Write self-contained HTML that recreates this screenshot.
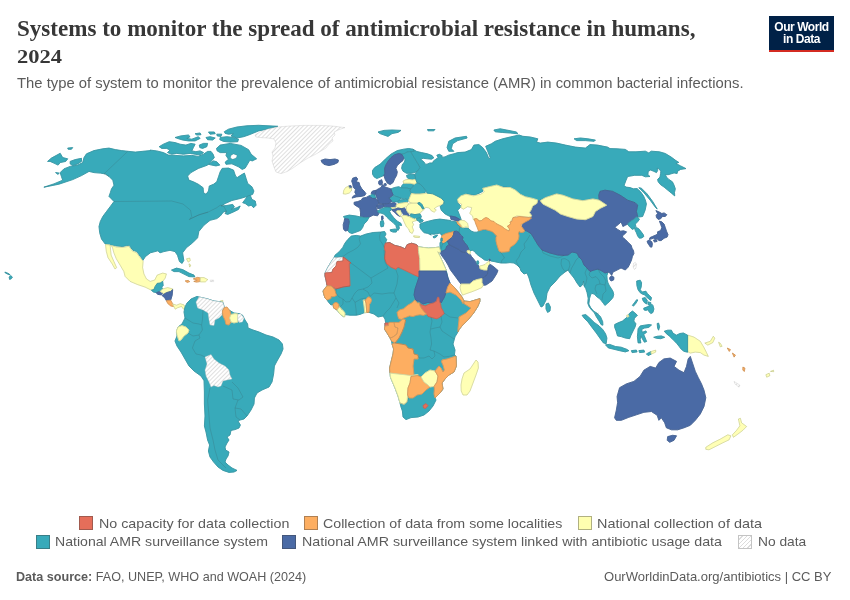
<!DOCTYPE html>
<html lang="en"><head><meta charset="utf-8"><title>Systems to monitor the spread of antimicrobial resistance in humans, 2024</title>
<style>
html,body{margin:0;padding:0;background:#fff;}
body{width:850px;height:600px;position:relative;overflow:hidden;font-family:"Liberation Sans",sans-serif;color:#5b5b5b;}
.t{position:absolute;white-space:nowrap;transform-origin:0 0;line-height:1;}
#title{left:16.7px;top:15px;font-family:"Liberation Serif",serif;font-weight:bold;font-size:23.5px;color:#373737;line-height:26.7px;letter-spacing:0px;}
#sub{left:17px;top:75.8px;font-size:14.2px;color:#5b5b5b;}
#logo{position:absolute;left:769px;top:16px;width:65px;height:33.5px;background:#002147;border-bottom:2.5px solid #d42b21;color:#fff;font-weight:bold;font-size:12px;line-height:12.2px;text-align:center;letter-spacing:-0.45px;}
#logo span{display:block;}
.sw{position:absolute;width:14px;height:13.8px;border:0.7px solid rgba(60,60,60,0.4);box-sizing:border-box;}
.lg{font-size:13.3px;color:#5b5b5b;}
.ft{font-size:12.6px;color:#5b5b5b;}
svg{position:absolute;left:0;top:0;}
</style></head><body>
<div id="title" class="t" style="transform:scaleX(0.981)">Systems to monitor the spread of antimicrobial resistance in humans,</div>
<div id="title2" class="t" style="left:16.7px;top:48.8px;font-family:'Liberation Serif',serif;font-weight:bold;font-size:17.8px;color:#373737;transform:scaleX(1.265)">2024</div>
<div id="sub" class="t" style="transform:scaleX(1.0446)">The type of system to monitor the prevalence of antimicrobial resistance (AMR) in common bacterial infections.</div>
<div id="logo"><span style="margin-top:4.6px">Our World</span><span>in Data</span></div>
<svg width="850" height="600" viewBox="0 0 850 600">
<defs><pattern id="hatch" width="3" height="3" patternUnits="userSpaceOnUse" patternTransform="rotate(45)"><rect width="3" height="3" fill="#fff"/><rect width="1" height="3" fill="#dfdfdf"/></pattern></defs>
<style>.f{stroke-width:.9;stroke-linejoin:round}.o{fill:none;stroke:#3c4a50;stroke-width:.35;stroke-opacity:.55;stroke-linejoin:round}.n{fill:none;stroke:#bdbdbd;stroke-width:.35}</style>
<path class="f" d="M47.6,161.4 51.4,158.1 60.2,153.3 62.7,157.6 67.7,158.8 65.7,161.4 60.2,162.6 58.1,165.1 53.9,163.1 50.1,161.4Z" fill="#38AABA" stroke="#38AABA"/><path class="o" d="M47.6,161.4 51.4,158.1 60.2,153.3 62.7,157.6 67.7,158.8 65.7,161.4 60.2,162.6 58.1,165.1 53.9,163.1 50.1,161.4Z"/>
<path class="f" d="M70.2,161.4 75.2,159.6 81.5,158.3 81.5,161.4 77.7,163.9 72.7,165.6 70.2,163.9Z" fill="#38AABA" stroke="#38AABA"/><path class="o" d="M70.2,161.4 75.2,159.6 81.5,158.3 81.5,161.4 77.7,163.9 72.7,165.6 70.2,163.9Z"/>
<path class="f" d="M67.7,148.1 72.7,147.6 71.4,149.3 68.2,149.3Z" fill="#38AABA" stroke="#38AABA"/><path class="o" d="M67.7,148.1 72.7,147.6 71.4,149.3 68.2,149.3Z"/>
<path class="f" d="M55.6,172.6 59.1,173.1 58.1,174.4Z" fill="#38AABA" stroke="#38AABA"/><path class="o" d="M55.6,172.6 59.1,173.1 58.1,174.4Z"/>
<path class="f" d="M43.9,187.2 53.9,183.9 62.7,180.2 61.4,176.4 60.2,172.6 63.9,168.9 70.2,166.4 77.7,165.1 82.7,162.6 84,157.6 86.5,153.8 94,150.6 102.8,148.8 109,148.1 115.3,149.6 121.6,150.6 127.8,151.3 135.3,152.1 142.9,151.3 150.4,150.6 150,150.1 156.7,150.9 163.4,152.6 168.4,155.1 175.1,155.4 183.4,155.9 191.8,155.4 198.4,156.4 203.5,154.2 207.6,151.4 211,151.4 213.1,154.2 214.3,157.6 210.1,162.6 207.6,165.1 198.4,168.4 190.9,172.6 187.6,176 188.8,180.1 193.4,181.8 198.4,184.3 203.1,187.7 203.5,192.7 206,194.3 208.5,191 209.3,186 213.5,184.3 216.8,181.8 218.5,176.8 220.2,171.8 222.2,168.4 228.5,168.1 233.5,170.1 235.5,176 237.2,177.6 241,175.1 244.4,173.1 246.1,178.5 247.7,183.5 251.9,186.8 253.9,191 252.7,194.3 248.6,196 240.2,198.5 231.9,200.5 225.2,203.5 221,206 226.8,205.5 232.7,204.4 234.4,206.9 231,209.4 236.9,207.7 240.2,206 238.5,209.4 233.5,211.9 227.7,214.4 225.2,213.6 226.8,211 223.5,211.9 220.2,216.1 216.8,218.6 210.1,220.3 203.9,225.3 198.8,231.5 197.6,237.8 192.6,242.8 186.3,247.8 182.6,252.8 183.8,260.4 182.1,263.4 179.5,261.6 177.5,255.3 175,251.6 170,250.3 163.8,251.6 160,252.8 157.9,250.8 150.4,252.8 145.4,256.6 142.9,260.4 140.4,256.6 136.6,251.6 132.8,250.3 129.1,245.3 122.8,246.6 116.5,246.1 105.3,244.1 101.5,239 99.7,232.8 99,226.5 100.3,221.5 102.8,216.5 106.5,211.5 110.3,206.5 114,201.5 111.5,198.9 109,196.4 110.3,192.7 111.5,188.9 114,185.2 112.8,180.2 109,176.4 105.3,173.9 100.3,173.1 94,172.6 89,171.4 81.5,175.6 72.7,179.6 58.9,184.2Z" fill="#38AABA" stroke="#38AABA"/><path class="o" d="M43.9,187.2 53.9,183.9 62.7,180.2 61.4,176.4 60.2,172.6 63.9,168.9 70.2,166.4 77.7,165.1 82.7,162.6 84,157.6 86.5,153.8 94,150.6 102.8,148.8 109,148.1 115.3,149.6 121.6,150.6 127.8,151.3 135.3,152.1 142.9,151.3 150.4,150.6 150,150.1 156.7,150.9 163.4,152.6 168.4,155.1 175.1,155.4 183.4,155.9 191.8,155.4 198.4,156.4 203.5,154.2 207.6,151.4 211,151.4 213.1,154.2 214.3,157.6 210.1,162.6 207.6,165.1 198.4,168.4 190.9,172.6 187.6,176 188.8,180.1 193.4,181.8 198.4,184.3 203.1,187.7 203.5,192.7 206,194.3 208.5,191 209.3,186 213.5,184.3 216.8,181.8 218.5,176.8 220.2,171.8 222.2,168.4 228.5,168.1 233.5,170.1 235.5,176 237.2,177.6 241,175.1 244.4,173.1 246.1,178.5 247.7,183.5 251.9,186.8 253.9,191 252.7,194.3 248.6,196 240.2,198.5 231.9,200.5 225.2,203.5 221,206 226.8,205.5 232.7,204.4 234.4,206.9 231,209.4 236.9,207.7 240.2,206 238.5,209.4 233.5,211.9 227.7,214.4 225.2,213.6 226.8,211 223.5,211.9 220.2,216.1 216.8,218.6 210.1,220.3 203.9,225.3 198.8,231.5 197.6,237.8 192.6,242.8 186.3,247.8 182.6,252.8 183.8,260.4 182.1,263.4 179.5,261.6 177.5,255.3 175,251.6 170,250.3 163.8,251.6 160,252.8 157.9,250.8 150.4,252.8 145.4,256.6 142.9,260.4 140.4,256.6 136.6,251.6 132.8,250.3 129.1,245.3 122.8,246.6 116.5,246.1 105.3,244.1 101.5,239 99.7,232.8 99,226.5 100.3,221.5 102.8,216.5 106.5,211.5 110.3,206.5 114,201.5 111.5,198.9 109,196.4 110.3,192.7 111.5,188.9 114,185.2 112.8,180.2 109,176.4 105.3,173.9 100.3,173.1 94,172.6 89,171.4 81.5,175.6 72.7,179.6 58.9,184.2Z"/>
<path class="f" d="M242.7,202.7 247.7,196 250.2,195.2 251.9,199.4 255.2,201 256.1,205.2 253.6,207.7 251.1,205.2 248.6,206 245.2,203.5Z" fill="#38AABA" stroke="#38AABA"/><path class="o" d="M242.7,202.7 247.7,196 250.2,195.2 251.9,199.4 255.2,201 256.1,205.2 253.6,207.7 251.1,205.2 248.6,206 245.2,203.5Z"/>
<path class="f" d="M216.5,148.4 220.2,145.1 230.2,143.4 241,145.4 248.6,149.7 251.1,154.2 256.6,158.8 252.2,160.9 249.9,160.1 245.2,168.1 242.2,169.4 238.5,166.8 231.9,163.8 226,164.3 225.2,162.1 228.5,159.3 226,155.4 226.8,152.6 220.2,152.6 217.2,150.9Z" fill="#38AABA" stroke="#38AABA"/><path class="o" d="M216.5,148.4 220.2,145.1 230.2,143.4 241,145.4 248.6,149.7 251.1,154.2 256.6,158.8 252.2,160.9 249.9,160.1 245.2,168.1 242.2,169.4 238.5,166.8 231.9,163.8 226,164.3 225.2,162.1 228.5,159.3 226,155.4 226.8,152.6 220.2,152.6 217.2,150.9Z"/>
<path d="M231,155.4 233.5,153.9 237.2,155.4 236,158.1 232.7,159.3 230.5,158.1Z" fill="#fff"/><path class="o" d="M231,155.4 233.5,153.9 237.2,155.4 236,158.1 232.7,159.3 230.5,158.1Z"/>
<path class="f" d="M159.2,146.7 163.4,144.2 169.2,141.7 175.1,142.6 180.1,144.2 185.9,145.1 190.9,143.4 195.1,144.2 193.4,147.6 191.8,150.9 195.9,151.7 200.1,150.9 203.5,152.6 200.1,155.1 195.1,154.2 190.1,153.4 183.4,154.2 176.7,153.4 171.7,154.2 167.5,152.6 170,150.1 166.7,148.4 161.7,148.4Z" fill="#38AABA" stroke="#38AABA"/><path class="o" d="M159.2,146.7 163.4,144.2 169.2,141.7 175.1,142.6 180.1,144.2 185.9,145.1 190.9,143.4 195.1,144.2 193.4,147.6 191.8,150.9 195.9,151.7 200.1,150.9 203.5,152.6 200.1,155.1 195.1,154.2 190.1,153.4 183.4,154.2 176.7,153.4 171.7,154.2 167.5,152.6 170,150.1 166.7,148.4 161.7,148.4Z"/>
<path class="f" d="M175.1,137.5 180.9,135.9 188.4,135 190.1,136.7 186.8,138.4 191.8,139.2 198.4,136.7 200.1,138.4 195.1,140.9 188.4,140.9 182.6,140 178.4,138.7Z" fill="#38AABA" stroke="#38AABA"/><path class="o" d="M175.1,137.5 180.9,135.9 188.4,135 190.1,136.7 186.8,138.4 191.8,139.2 198.4,136.7 200.1,138.4 195.1,140.9 188.4,140.9 182.6,140 178.4,138.7Z"/>
<path class="f" d="M199.3,145.1 203.5,143.4 207.6,143.4 206.8,146.7 202.6,148.4 199.8,147.6Z" fill="#38AABA" stroke="#38AABA"/><path class="o" d="M199.3,145.1 203.5,143.4 207.6,143.4 206.8,146.7 202.6,148.4 199.8,147.6Z"/>
<path class="f" d="M206,137.5 210.1,136.7 215.2,138 212.6,140 207.6,139.7Z" fill="#38AABA" stroke="#38AABA"/><path class="o" d="M206,137.5 210.1,136.7 215.2,138 212.6,140 207.6,139.7Z"/>
<path class="f" d="M220.2,137.5 226.8,136.7 233.5,137.5 238.5,139.2 237.7,141.7 230.2,142.1 223.5,141.4 219.8,139.7Z" fill="#38AABA" stroke="#38AABA"/><path class="o" d="M220.2,137.5 226.8,136.7 233.5,137.5 238.5,139.2 237.7,141.7 230.2,142.1 223.5,141.4 219.8,139.7Z"/>
<path class="f" d="M224.3,131.7 228.5,129.2 236.9,127 246.9,125.8 258.6,125.3 277.8,126.3 266.9,129.2 258.6,130.9 253.6,133 248.6,135 243.6,136.7 236.9,138 231,135.9 233.5,133.7 228.5,134.2 225.2,133.4Z" fill="#38AABA" stroke="#38AABA"/><path class="o" d="M224.3,131.7 228.5,129.2 236.9,127 246.9,125.8 258.6,125.3 277.8,126.3 266.9,129.2 258.6,130.9 253.6,133 248.6,135 243.6,136.7 236.9,138 231,135.9 233.5,133.7 228.5,134.2 225.2,133.4Z"/>
<path class="f" d="M208.5,132 214.3,132 215.2,133.7 210.1,134.2Z" fill="#38AABA" stroke="#38AABA"/><path class="o" d="M208.5,132 214.3,132 215.2,133.7 210.1,134.2Z"/>
<path class="f" d="M216.8,134.2 221.8,134.2 221,136.4 217.2,135.9Z" fill="#38AABA" stroke="#38AABA"/><path class="o" d="M216.8,134.2 221.8,134.2 221,136.4 217.2,135.9Z"/>
<path class="f" d="M195.1,133.7 200.1,133 201,134.7 196.8,135Z" fill="#38AABA" stroke="#38AABA"/><path class="o" d="M195.1,133.7 200.1,133 201,134.7 196.8,135Z"/>
<path class="f" d="M208.5,164.3 213.5,160.9 216.8,161.8 219.8,165.1 216,165.9 211.8,165.1Z" fill="#38AABA" stroke="#38AABA"/><path class="o" d="M208.5,164.3 213.5,160.9 216.8,161.8 219.8,165.1 216,165.9 211.8,165.1Z"/>
<path class="f" d="M9.2,277.1 10.6,275.6 12.4,277.1 11.2,278.8 9.6,279.4Z" fill="#38AABA" stroke="#38AABA"/><path class="o" d="M9.2,277.1 10.6,275.6 12.4,277.1 11.2,278.8 9.6,279.4Z"/>
<path class="f" d="M4.9,272.1 7.1,272.9 9.4,274.1 10,274.9 7.6,274.1 5.3,272.9Z" fill="#38AABA" stroke="#38AABA"/><path class="o" d="M4.9,272.1 7.1,272.9 9.4,274.1 10,274.9 7.6,274.1 5.3,272.9Z"/>
<path class="f" d="M111.3,245.5 116.3,247 122.6,247.5 128.8,246.3 132.6,251.3 136.4,252.6 140.1,257.6 143.1,261.3 142.6,267.6 143.9,273.9 146.4,278.9 150.2,281.4 154.7,280.1 157.2,275.1 162.7,273.1 166.4,273.9 165.2,278.1 162.7,281.4 160.2,283.1 157.2,283.4 155.2,286.4 153.9,289.6 151.4,290.2 145.1,287.1 137.6,284.6 130.1,281.4 125.1,276.4 123.8,271.4 120.1,265.1 116.3,258.8 113.8,252.6 112.6,248Z" fill="#FFFFB5" stroke="#FFFFB5"/><path class="o" d="M111.3,245.5 116.3,247 122.6,247.5 128.8,246.3 132.6,251.3 136.4,252.6 140.1,257.6 143.1,261.3 142.6,267.6 143.9,273.9 146.4,278.9 150.2,281.4 154.7,280.1 157.2,275.1 162.7,273.1 166.4,273.9 165.2,278.1 162.7,281.4 160.2,283.1 157.2,283.4 155.2,286.4 153.9,289.6 151.4,290.2 145.1,287.1 137.6,284.6 130.1,281.4 125.1,276.4 123.8,271.4 120.1,265.1 116.3,258.8 113.8,252.6 112.6,248Z"/>
<path class="f" d="M105.5,244.5 110.1,245 110.6,250.1 111.1,255.1 113.8,261.3 116.6,267.6 115.1,269.1 112.1,263.8 108,257.6 106.3,251.3Z" fill="#FFFFB5" stroke="#FFFFB5"/><path class="o" d="M105.5,244.5 110.1,245 110.6,250.1 111.1,255.1 113.8,261.3 116.6,267.6 115.1,269.1 112.1,263.8 108,257.6 106.3,251.3Z"/>
<path class="f" d="M151.4,290.2 153.9,289.6 155.2,286.4 157.2,283.4 160.2,283.1 162.7,281.4 163.2,285.6 161.7,287.1 162.7,288.9 160.2,291.4 156.4,292.7 153.2,291.9Z" fill="#38AABA" stroke="#38AABA"/><path class="o" d="M151.4,290.2 153.9,289.6 155.2,286.4 157.2,283.4 160.2,283.1 162.7,281.4 163.2,285.6 161.7,287.1 162.7,288.9 160.2,291.4 156.4,292.7 153.2,291.9Z"/>
<path class="f" d="M156.4,292.7 160.2,291.4 163.2,293.2 161.4,294.9 157.7,294.4Z" fill="#4A6AA5" stroke="#4A6AA5"/><path class="o" d="M156.4,292.7 160.2,291.4 163.2,293.2 161.4,294.9 157.7,294.4Z"/>
<path class="f" d="M160.2,291.4 162.7,288.9 167.7,287.6 172.7,288.9 170.7,291.4 166.4,292.7 163.9,294.2 163.2,293.2Z" fill="#FFFFB5" stroke="#FFFFB5"/><path class="o" d="M160.2,291.4 162.7,288.9 167.7,287.6 172.7,288.9 170.7,291.4 166.4,292.7 163.9,294.2 163.2,293.2Z"/>
<path class="f" d="M163.9,294.2 166.4,292.7 170.7,291.4 172.7,289.6 172.2,295.2 170.7,300.2 166.4,300.7 164.7,297.7 162.2,295.7Z" fill="#4A6AA5" stroke="#4A6AA5"/><path class="o" d="M163.9,294.2 166.4,292.7 170.7,291.4 172.7,289.6 172.2,295.2 170.7,300.2 166.4,300.7 164.7,297.7 162.2,295.7Z"/>
<path class="f" d="M166.4,300.7 170.7,300.2 172.7,303.9 174,306.7 170.7,305.9 167.7,303.4Z" fill="#FDAE61" stroke="#FDAE61"/><path class="o" d="M166.4,300.7 170.7,300.2 172.7,303.9 174,306.7 170.7,305.9 167.7,303.4Z"/>
<path class="f" d="M172.7,303.9 176.5,305.2 180.2,303.7 184,304.9 185.7,308.2 183.5,309.2 181.5,306.4 177.7,307.7 175.2,309.2 174,306.7Z" fill="#FFFFB5" stroke="#FFFFB5"/><path class="o" d="M172.7,303.9 176.5,305.2 180.2,303.7 184,304.9 185.7,308.2 183.5,309.2 181.5,306.4 177.7,307.7 175.2,309.2 174,306.7Z"/>
<path class="f" d="M171.5,270.1 176.5,268.1 182.7,269.6 189,273.1 194,275.1 194.8,276.9 189,276.6 184,274.1 179,271.6 174,271.6Z" fill="#38AABA" stroke="#38AABA"/><path class="o" d="M171.5,270.1 176.5,268.1 182.7,269.6 189,273.1 194,275.1 194.8,276.9 189,276.6 184,274.1 179,271.6 174,271.6Z"/>
<path class="f" d="M185.2,280.9 188.2,280.4 189.7,281.6 187.2,282.4Z" fill="#FDAE61" stroke="#FDAE61"/><path class="o" d="M185.2,280.9 188.2,280.4 189.7,281.6 187.2,282.4Z"/>
<path class="f" d="M193.3,278.9 197.3,277.4 200.3,277.9 199.8,281.6 196.5,282.1 193.8,281.4 197.3,280.1Z" fill="#FDAE61" stroke="#FDAE61"/><path class="o" d="M193.3,278.9 197.3,277.4 200.3,277.9 199.8,281.6 196.5,282.1 193.8,281.4 197.3,280.1Z"/>
<path class="f" d="M200.3,277.6 204,277.6 207.8,279.6 205.3,281.9 200.3,281.9Z" fill="#FFFFB5" stroke="#FFFFB5"/><path class="o" d="M200.3,277.6 204,277.6 207.8,279.6 205.3,281.9 200.3,281.9Z"/>
<path d="M210.3,280.1 213.6,280.1 213.6,281.6 210.3,281.6Z" fill="url(#hatch)"/><path class="n" d="M210.3,280.1 213.6,280.1 213.6,281.6 210.3,281.6Z"/>
<path class="f" d="M186.5,258.8 189.7,258.1 190.3,260.6 188.2,262.1Z" fill="#FFFFB5" stroke="#FFFFB5"/><path class="o" d="M186.5,258.8 189.7,258.1 190.3,260.6 188.2,262.1Z"/>
<path class="f" d="M189,263.8 190.8,265.1 189.7,267.1Z" fill="#FFFFB5" stroke="#FFFFB5"/><path class="o" d="M189,263.8 190.8,265.1 189.7,267.1Z"/>
<path class="f" d="M220.3,300.9 222.8,300.4 222.8,302.4 220.6,302.7Z" fill="#FFFFB5" stroke="#FFFFB5"/><path class="o" d="M220.3,300.9 222.8,300.4 222.8,302.4 220.6,302.7Z"/>
<path class="f" d="M185,307 187,303 191,299 197,296.4 199,297 202,297.6 208,299 214,301 219,301.6 223,302.4 224.4,307.6 229,310 234,313 239,313.6 242.4,315 245,320 247.6,324 248,328 253,330 259,332 266,335 273,337 279,340 282.4,344 283,349 281,354 277,361 274.4,366 273.6,374 272,382 269,387 262,390 257,393 254.4,398 254,404 251,410 247,416 244,419 240,420 238,421 240.4,425 239,428 235,429.6 231,430.4 230,435 227,437 229,440 227,443 225,447 225.6,450 229,452 228,456 226,459 225,462 228,465 232,468 237,470.4 234,472 229,472.4 223,470.4 218,467 213.6,462 210,457 208.4,451 209.6,445 207.6,440 206,432 204.4,426 205,416 204.4,404 204.4,392 204,380 203.6,380 201,376 194,371 189,366 185,359 181,352 177,346 175,341 177,336 176.4,332 178,327 182,324 185,318 184,312Z" fill="#38AABA" stroke="#38AABA"/><path class="o" d="M185,307 187,303 191,299 197,296.4 199,297 202,297.6 208,299 214,301 219,301.6 223,302.4 224.4,307.6 229,310 234,313 239,313.6 242.4,315 245,320 247.6,324 248,328 253,330 259,332 266,335 273,337 279,340 282.4,344 283,349 281,354 277,361 274.4,366 273.6,374 272,382 269,387 262,390 257,393 254.4,398 254,404 251,410 247,416 244,419 240,420 238,421 240.4,425 239,428 235,429.6 231,430.4 230,435 227,437 229,440 227,443 225,447 225.6,450 229,452 228,456 226,459 225,462 228,465 232,468 237,470.4 234,472 229,472.4 223,470.4 218,467 213.6,462 210,457 208.4,451 209.6,445 207.6,440 206,432 204.4,426 205,416 204.4,404 204.4,392 204,380 203.6,380 201,376 194,371 189,366 185,359 181,352 177,346 175,341 177,336 176.4,332 178,327 182,324 185,318 184,312Z"/>
<path d="M199,297 202,297.6 208,299 214,301 219,301.6 223,302.4 224.4,307.6 222.4,310 222,315 219,318 215,320 214,325.6 210,325 209,320 208,313 203,310 197.6,308 196,302Z" fill="url(#hatch)"/><path class="n" d="M199,297 202,297.6 208,299 214,301 219,301.6 223,302.4 224.4,307.6 222.4,310 222,315 219,318 215,320 214,325.6 210,325 209,320 208,313 203,310 197.6,308 196,302Z"/>
<path class="f" d="M224.4,307.6 227,307 230,311 231,315 229.6,318 231,322 229,325 226,324.4 225,320 223,316 222.4,311Z" fill="#FDAE61" stroke="#FDAE61"/><path class="o" d="M224.4,307.6 227,307 230,311 231,315 229.6,318 231,322 229,325 226,324.4 225,320 223,316 222.4,311Z"/>
<path class="f" d="M231,314.4 235,313.6 238,314 237.6,319 238,322 234,323 231,322 229.6,318Z" fill="#FFFFB5" stroke="#FFFFB5"/><path class="o" d="M231,314.4 235,313.6 238,314 237.6,319 238,322 234,323 231,322 229.6,318Z"/>
<path d="M238,314 241,314 244,318 242.4,322 239,322.4 237.6,319Z" fill="url(#hatch)"/><path class="n" d="M238,314 241,314 244,318 242.4,322 239,322.4 237.6,319Z"/>
<path class="f" d="M178,327 182,325.6 186,327 189,330 188,333 184,336 181,340 179,341 178,338 177,335 176.4,331Z" fill="#FFFFB5" stroke="#FFFFB5"/><path class="o" d="M178,327 182,325.6 186,327 189,330 188,333 184,336 181,340 179,341 178,338 177,335 176.4,331Z"/>
<path d="M205,357 211,354.4 214,359 219,363 225,366 229,370 230,375 232,379 227,380 223,381 221,386 218,387 214,385.6 211,387 209,382 206,376 205,370 207,364Z" fill="url(#hatch)"/><path class="n" d="M205,357 211,354.4 214,359 219,363 225,366 229,370 230,375 232,379 227,380 223,381 221,386 218,387 214,385.6 211,387 209,382 206,376 205,370 207,364Z"/>
<path d="M255,135 260,132 268,129 278,127 290,126 304,125.4 320,125.4 332,126 345,127.6 339,129.6 334,132 335,135 332,138 333,141 329,144 326,148 321,151 316,154 308,158 300,163 293,168 287,171.6 281,173.6 276,172 274,167 272,161 273,156 272,152 275,148 276,143 274,139 268,138 261,137.6 256,137Z" fill="url(#hatch)"/><path class="n" d="M255,135 260,132 268,129 278,127 290,126 304,125.4 320,125.4 332,126 345,127.6 339,129.6 334,132 335,135 332,138 333,141 329,144 326,148 321,151 316,154 308,158 300,163 293,168 287,171.6 281,173.6 276,172 274,167 272,161 273,156 272,152 275,148 276,143 274,139 268,138 261,137.6 256,137Z"/>
<path class="f" d="M321,160.4 325,159 330,159.6 335,159 338.4,160 338,162.4 334,164.4 329,165.6 324,164.4 322,162.4Z" fill="#4A6AA5" stroke="#4A6AA5"/><path class="o" d="M321,160.4 325,159 330,159.6 335,159 338.4,160 338,162.4 334,164.4 329,165.6 324,164.4 322,162.4Z"/>
<path class="f" d="M378,132 384,130.4 392,130 401,130.4 398,132.4 392,133.6 388,136.4 384,135 380,133.6Z" fill="#38AABA" stroke="#38AABA"/><path class="o" d="M378,132 384,130.4 392,130 401,130.4 398,132.4 392,133.6 388,136.4 384,135 380,133.6Z"/>
<path class="f" d="M372.5,170.5 374.7,167.6 380.3,164.1 385.3,159.1 390.9,154.2 397.3,150.6 403.7,149.2 408.7,148.5 412.9,149.2 414.3,151.3 410.8,151.6 407.2,152 404.4,153.5 401.6,154.2 398.7,153.5 394.5,154.9 390.9,157.7 388.1,161.2 386,164.8 384.6,168.3 384.9,173.3 383.9,175.4 380.3,177.1 376.8,178.5 374,176.8 372.5,174Z" fill="#38AABA" stroke="#38AABA"/><path class="o" d="M372.5,170.5 374.7,167.6 380.3,164.1 385.3,159.1 390.9,154.2 397.3,150.6 403.7,149.2 408.7,148.5 412.9,149.2 414.3,151.3 410.8,151.6 407.2,152 404.4,153.5 401.6,154.2 398.7,153.5 394.5,154.9 390.9,157.7 388.1,161.2 386,164.8 384.6,168.3 384.9,173.3 383.9,175.4 380.3,177.1 376.8,178.5 374,176.8 372.5,174Z"/>
<path class="f" d="M401.6,154.2 404.4,153.5 407.2,152 410.8,151.6 412.2,154.2 414.3,157.7 416.4,161.2 418.6,164.8 420,167.6 417.9,170.5 415,172.6 410.8,173.3 406.5,173.3 403,171.2 401.6,168.3 402.3,164.8 404.4,162 405.1,159.8 403.7,157.7Z" fill="#38AABA" stroke="#38AABA"/><path class="o" d="M401.6,154.2 404.4,153.5 407.2,152 410.8,151.6 412.2,154.2 414.3,157.7 416.4,161.2 418.6,164.8 420,167.6 417.9,170.5 415,172.6 410.8,173.3 406.5,173.3 403,171.2 401.6,168.3 402.3,164.8 404.4,162 405.1,159.8 403.7,157.7Z"/>
<path class="f" d="M384.6,168.3 386,164.8 388.1,161.2 390.9,157.7 394.5,154.9 398.7,153.5 401.6,154.2 403.7,157.7 403,160.5 400.2,162.7 397.3,165.5 395.9,168.3 397.3,171.9 396.6,175.4 394.5,179 393.1,182.5 390.2,184.6 387.4,183.2 385.3,179.7 383.9,175.4 384.9,173.3Z" fill="#4A6AA5" stroke="#4A6AA5"/><path class="o" d="M384.6,168.3 386,164.8 388.1,161.2 390.9,157.7 394.5,154.9 398.7,153.5 401.6,154.2 403.7,157.7 403,160.5 400.2,162.7 397.3,165.5 395.9,168.3 397.3,171.9 396.6,175.4 394.5,179 393.1,182.5 390.2,184.6 387.4,183.2 385.3,179.7 383.9,175.4 384.9,173.3Z"/>
<path class="f" d="M406.5,175.4 410.1,174 415,174.7 415.7,179 412.2,179.7 408.7,179 407.2,177.5Z" fill="#38AABA" stroke="#38AABA"/><path class="o" d="M406.5,175.4 410.1,174 415,174.7 415.7,179 412.2,179.7 408.7,179 407.2,177.5Z"/>
<path class="f" d="M401.6,186 403.7,183.6 406.5,183.2 410.1,183.2 413.6,184.2 412.9,186.7 410.8,188.9 407.2,188.2 404.1,188.2 401.6,187.9Z" fill="#38AABA" stroke="#38AABA"/><path class="o" d="M401.6,186 403.7,183.6 406.5,183.2 410.1,183.2 413.6,184.2 412.9,186.7 410.8,188.9 407.2,188.2 404.1,188.2 401.6,187.9Z"/>
<path class="f" d="M413.6,184.2 416.9,182.8 420,183.9 423.5,187.5 425.7,190.3 424.9,193.1 420,193.8 415,193.8 411.5,193.1 409.8,190.3 410.8,188.9 412.9,186.7Z" fill="#38AABA" stroke="#38AABA"/><path class="o" d="M413.6,184.2 416.9,182.8 420,183.9 423.5,187.5 425.7,190.3 424.9,193.1 420,193.8 415,193.8 411.5,193.1 409.8,190.3 410.8,188.9 412.9,186.7Z"/>
<path class="f" d="M390.9,188.9 394.5,187.5 398.7,186.7 401.6,187.9 407.2,188.2 410.8,188.9 409.8,190.3 411.2,193.8 410.1,196.7 408.7,199.5 404.4,198.8 400.2,198.1 396.6,196.7 393.1,195.2 391.7,191.7Z" fill="#38AABA" stroke="#38AABA"/><path class="o" d="M390.9,188.9 394.5,187.5 398.7,186.7 401.6,187.9 407.2,188.2 410.8,188.9 409.8,190.3 411.2,193.8 410.1,196.7 408.7,199.5 404.4,198.8 400.2,198.1 396.6,196.7 393.1,195.2 391.7,191.7Z"/>
<path class="f" d="M388.8,198.1 393.1,195.9 397.3,196.7 400.9,198.1 399.4,200.2 396.6,201.9 392.4,201.9 390.2,200.5Z" fill="#38AABA" stroke="#38AABA"/><path class="o" d="M388.8,198.1 393.1,195.9 397.3,196.7 400.9,198.1 399.4,200.2 396.6,201.9 392.4,201.9 390.2,200.5Z"/>
<path class="f" d="M397.3,201.6 400.9,199.8 405.8,199.2 408.9,200.2 407.2,202.6 402.3,203.3 398.7,203.7Z" fill="#38AABA" stroke="#38AABA"/><path class="o" d="M397.3,201.6 400.9,199.8 405.8,199.2 408.9,200.2 407.2,202.6 402.3,203.3 398.7,203.7Z"/>
<path class="f" d="M403,181.1 405.8,179.7 408.7,179.4 412.2,179.9 415.7,179.4 416.9,182.5 414.3,184.2 410.1,183.2 406.5,183.2 403.7,183.3Z" fill="#FFFFB5" stroke="#FFFFB5"/><path class="o" d="M403,181.1 405.8,179.7 408.7,179.4 412.2,179.9 415.7,179.4 416.9,182.5 414.3,184.2 410.1,183.2 406.5,183.2 403.7,183.3Z"/>
<path class="f" d="M376.1,190.3 378.2,188.9 381,187.5 382.5,184.6 384.6,186.7 386.7,187.5 390.9,188.9 391.7,191.7 393.1,195 390.9,196.7 388.8,198.1 391.7,200.9 389.5,203.3 386,204 382.5,204 378.9,203.3 377.5,199.5 376.1,195.9 375.4,193.1Z" fill="#4A6AA5" stroke="#4A6AA5"/><path class="o" d="M376.1,190.3 378.2,188.9 381,187.5 382.5,184.6 384.6,186.7 386.7,187.5 390.9,188.9 391.7,191.7 393.1,195 390.9,196.7 388.8,198.1 391.7,200.9 389.5,203.3 386,204 382.5,204 378.9,203.3 377.5,199.5 376.1,195.9 375.4,193.1Z"/>
<path class="f" d="M378.9,181.1 381.7,179.7 382.5,182.5 381.7,184.8 379.6,185 378.6,183.2Z" fill="#4A6AA5" stroke="#4A6AA5"/><path class="o" d="M378.9,181.1 381.7,179.7 382.5,182.5 381.7,184.8 379.6,185 378.6,183.2Z"/>
<path class="f" d="M383.9,183.9 386,183.6 386.3,185.3 384.3,185.6Z" fill="#4A6AA5" stroke="#4A6AA5"/><path class="o" d="M383.9,183.9 386,183.6 386.3,185.3 384.3,185.6Z"/>
<path class="f" d="M372.5,191 376.1,190.3 375.4,193.1 374.9,195.5 372.1,194.8 371.1,193.1Z" fill="#4A6AA5" stroke="#4A6AA5"/><path class="o" d="M372.5,191 376.1,190.3 375.4,193.1 374.9,195.5 372.1,194.8 371.1,193.1Z"/>
<path class="f" d="M369,195.9 372.1,194.5 374.9,195.2 375.7,198.4 372.5,198.6 369.7,197.4Z" fill="#38AABA" stroke="#38AABA"/><path class="o" d="M369,195.9 372.1,194.5 374.9,195.2 375.7,198.4 372.5,198.6 369.7,197.4Z"/>
<path class="f" d="M354.1,202.3 357.7,201.6 361.2,200.2 362.6,198.1 366.2,197.4 369,195.9 372.5,198.4 375.4,198.4 377.5,200.2 378.9,203 376.8,205.9 376.1,208 377.5,210.8 378.9,213.7 377.5,215.8 373.2,215.1 369,217.2 365.5,217.6 360.5,216.5 360.5,212.2 359.8,208 356.2,205.9 354.1,204.4Z" fill="#4A6AA5" stroke="#4A6AA5"/><path class="o" d="M354.1,202.3 357.7,201.6 361.2,200.2 362.6,198.1 366.2,197.4 369,195.9 372.5,198.4 375.4,198.4 377.5,200.2 378.9,203 376.8,205.9 376.1,208 377.5,210.8 378.9,213.7 377.5,215.8 373.2,215.1 369,217.2 365.5,217.6 360.5,216.5 360.5,212.2 359.8,208 356.2,205.9 354.1,204.4Z"/>
<path class="f" d="M381.5,216.2 382.9,216 383.2,219.1 381.7,220.2Z" fill="#4A6AA5" stroke="#4A6AA5"/><path class="o" d="M381.5,216.2 382.9,216 383.2,219.1 381.7,220.2Z"/>
<path class="f" d="M376.8,205.9 378.9,204.4 383.2,204.4 383.9,206.6 381,208.3 377.5,208.6Z" fill="#4A6AA5" stroke="#4A6AA5"/><path class="o" d="M376.8,205.9 378.9,204.4 383.2,204.4 383.9,206.6 381,208.3 377.5,208.6Z"/>
<path class="f" d="M383.2,204.4 389.5,203.3 394.5,202.6 396.9,204.4 395.9,206.9 390.9,207.7 386,207.1 383.9,206.6Z" fill="#4A6AA5" stroke="#4A6AA5"/><path class="o" d="M383.2,204.4 389.5,203.3 394.5,202.6 396.9,204.4 395.9,206.9 390.9,207.7 386,207.1 383.9,206.6Z"/>
<path class="f" d="M396.6,204.4 398.7,203.5 402.3,203 407.2,202.3 408.9,203.7 406.5,206.6 401.6,208.6 398,208 395.9,206.6Z" fill="#FFFFB5" stroke="#FFFFB5"/><path class="o" d="M396.6,204.4 398.7,203.5 402.3,203 407.2,202.3 408.9,203.7 406.5,206.6 401.6,208.6 398,208 395.9,206.6Z"/>
<path class="f" d="M390.9,207.7 395.2,207.3 395.5,209.3 391.7,209.7Z" fill="#FFFFB5" stroke="#FFFFB5"/><path class="o" d="M390.9,207.7 395.2,207.3 395.5,209.3 391.7,209.7Z"/>
<path class="f" d="M391.7,209.4 395.2,209.1 398,208 401.6,208.7 400.9,210.7 397.3,210.5 395.9,211.7 398,213.7 400.2,216.5 397.3,215.1 394.5,212.2 392.4,210.8Z" fill="#4A6AA5" stroke="#4A6AA5"/><path class="o" d="M391.7,209.4 395.2,209.1 398,208 401.6,208.7 400.9,210.7 397.3,210.5 395.9,211.7 398,213.7 400.2,216.5 397.3,215.1 394.5,212.2 392.4,210.8Z"/>
<path class="f" d="M396.2,211.5 397.6,210.5 400.9,210.8 401.6,213.7 400.2,216.2 398,213.9Z" fill="#FFFFB5" stroke="#FFFFB5"/><path class="o" d="M396.2,211.5 397.6,210.5 400.9,210.8 401.6,213.7 400.2,216.2 398,213.9Z"/>
<path class="f" d="M401.6,208.7 404.4,208 406.5,210.1 407.9,212.9 409.4,215.8 407.2,217.5 404.4,216.8 403,213.7 401.6,211.5Z" fill="#4A6AA5" stroke="#4A6AA5"/><path class="o" d="M401.6,208.7 404.4,208 406.5,210.1 407.9,212.9 409.4,215.8 407.2,217.5 404.4,216.8 403,213.7 401.6,211.5Z"/>
<path class="f" d="M406.5,206.6 408.7,204 412.9,203 417.9,203 420,205.2 422.1,208 423.5,210.1 421.4,211.5 420,213.7 415,214.6 410.8,213.9 407.9,212.5 406.5,210.1Z" fill="#FFFFB5" stroke="#FFFFB5"/><path class="o" d="M406.5,206.6 408.7,204 412.9,203 417.9,203 420,205.2 422.1,208 423.5,210.1 421.4,211.5 420,213.7 415,214.6 410.8,213.9 407.9,212.5 406.5,210.1Z"/>
<path class="f" d="M417.9,202.9 420,202.5 422.1,204.6 423.3,207.1 424.2,208.3 422.5,208.8 421.7,207.1 420.4,205.4 418.3,204Z" fill="#38AABA" stroke="#38AABA"/><path class="o" d="M417.9,202.9 420,202.5 422.1,204.6 423.3,207.1 424.2,208.3 422.5,208.8 421.7,207.1 420.4,205.4 418.3,204Z"/>
<path class="f" d="M408.7,200.2 410.1,196.7 411.5,193.5 415,194.1 420,194.1 424.9,193.5 427.1,193.1 432.7,193.8 437,195.9 441.2,198.1 444.1,201.2 443.4,203.7 440.5,205.2 437,206.6 434.2,208.7 436.3,210.1 434.2,212.2 431.3,210.8 429.2,208 425.7,207.3 423.5,210.1 422.1,205.9 420,203 417.9,203 412.9,203 409.4,202.3Z" fill="#FFFFB5" stroke="#FFFFB5"/><path class="o" d="M408.7,200.2 410.1,196.7 411.5,193.5 415,194.1 420,194.1 424.9,193.5 427.1,193.1 432.7,193.8 437,195.9 441.2,198.1 444.1,201.2 443.4,203.7 440.5,205.2 437,206.6 434.2,208.7 436.3,210.1 434.2,212.2 431.3,210.8 429.2,208 425.7,207.3 423.5,210.1 422.1,205.9 420,203 417.9,203 412.9,203 409.4,202.3Z"/>
<path class="f" d="M410.8,213.9 415,214.6 420,213.9 421.4,216.5 420,219.3 415.7,220.5 411.5,219.6 410.1,216.5Z" fill="#38AABA" stroke="#38AABA"/><path class="o" d="M410.8,213.9 415,214.6 420,213.9 421.4,216.5 420,219.3 415.7,220.5 411.5,219.6 410.1,216.5Z"/>
<path class="f" d="M401.3,216.2 403.3,215.3 405.8,215.5 408.7,216.5 411.5,217.7 414.3,219.1 416.4,218.4 417.2,220.2 414.3,221.2 412.2,221.9 413.6,224.7 412.2,226.9 413.6,230.4 412.2,233.5 409.8,232.1 408.7,229 406.5,226.9 405.1,224 404.1,221.9 403,219.1Z" fill="#FFFFB5" stroke="#FFFFB5"/><path class="o" d="M401.3,216.2 403.3,215.3 405.8,215.5 408.7,216.5 411.5,217.7 414.3,219.1 416.4,218.4 417.2,220.2 414.3,221.2 412.2,221.9 413.6,224.7 412.2,226.9 413.6,230.4 412.2,233.5 409.8,232.1 408.7,229 406.5,226.9 405.1,224 404.1,221.9 403,219.1Z"/>
<path class="f" d="M413.6,235.8 417.2,236.1 419.7,236.4 419.4,237.5 415.7,237.5 413.8,236.9Z" fill="#FFFFB5" stroke="#FFFFB5"/><path class="o" d="M413.6,235.8 417.2,236.1 419.7,236.4 419.4,237.5 415.7,237.5 413.8,236.9Z"/>
<path class="f" d="M377.5,210.9 380.3,209.4 383.9,207.7 387.4,207.3 390.9,208 391.4,209.9 389.5,211.3 390.9,214.1 393.8,217.7 397.3,221.2 400.9,223.3 401.6,225.5 398.7,225 399.4,228.3 398,230.4 396.6,228.3 395.9,225.5 393.1,222.6 389.5,219.8 386.7,217 383.9,214.1 381,213.1 378.6,212.7Z" fill="#38AABA" stroke="#38AABA"/><path class="o" d="M377.5,210.9 380.3,209.4 383.9,207.7 387.4,207.3 390.9,208 391.4,209.9 389.5,211.3 390.9,214.1 393.8,217.7 397.3,221.2 400.9,223.3 401.6,225.5 398.7,225 399.4,228.3 398,230.4 396.6,228.3 395.9,225.5 393.1,222.6 389.5,219.8 386.7,217 383.9,214.1 381,213.1 378.6,212.7Z"/>
<path class="f" d="M390.2,229.7 395.2,229 397.3,229.7 396.2,232.1 393.1,232.1 390.5,231.1Z" fill="#38AABA" stroke="#38AABA"/><path class="o" d="M390.2,229.7 395.2,229 397.3,229.7 396.2,232.1 393.1,232.1 390.5,231.1Z"/>
<path class="f" d="M380.6,221.2 383.2,220.5 383.9,223.3 383.4,226.4 381,226.9 380.3,224Z" fill="#38AABA" stroke="#38AABA"/><path class="o" d="M380.6,221.2 383.2,220.5 383.9,223.3 383.4,226.4 381,226.9 380.3,224Z"/>
<path class="f" d="M343.5,216.5 349.2,215.1 356.2,216 360.5,217 365.5,217.7 369,217.4 366.9,221.2 364,224 362.6,227.6 360.5,230.4 356.2,232.1 352,233.5 349.2,232.5 347.7,230.4 348.5,225.5 349.2,221.9 348.5,219.1 344.9,218.8Z" fill="#38AABA" stroke="#38AABA"/><path class="o" d="M343.5,216.5 349.2,215.1 356.2,216 360.5,217 365.5,217.7 369,217.4 366.9,221.2 364,224 362.6,227.6 360.5,230.4 356.2,232.1 352,233.5 349.2,232.5 347.7,230.4 348.5,225.5 349.2,221.9 348.5,219.1 344.9,218.8Z"/>
<path class="f" d="M344.6,218.8 348.5,219.1 349.2,221.9 348.5,225.5 347.7,230.4 345.2,231.1 343.5,229 343.2,224.7 344.2,221.2Z" fill="#4A6AA5" stroke="#4A6AA5"/><path class="o" d="M344.6,218.8 348.5,219.1 349.2,221.9 348.5,225.5 347.7,230.4 345.2,231.1 343.5,229 343.2,224.7 344.2,221.2Z"/>
<path class="f" d="M352.7,178.2 356.2,177.1 357.7,179 356.2,181.8 359.1,182.5 359.8,185.3 361.9,188.9 364,191 365.9,193.5 364.7,195.5 361.2,196.4 356.2,196.9 352,198.1 353.4,195.9 356.2,194.5 354.8,192.4 355.5,189.6 353.4,187.5 352.7,183.9 351.7,181.1Z" fill="#4A6AA5" stroke="#4A6AA5"/><path class="o" d="M352.7,178.2 356.2,177.1 357.7,179 356.2,181.8 359.1,182.5 359.8,185.3 361.9,188.9 364,191 365.9,193.5 364.7,195.5 361.2,196.4 356.2,196.9 352,198.1 353.4,195.9 356.2,194.5 354.8,192.4 355.5,189.6 353.4,187.5 352.7,183.9 351.7,181.1Z"/>
<path class="f" d="M348.5,186 350.9,185.6 351.7,187.5 349.4,188.4Z" fill="#4A6AA5" stroke="#4A6AA5"/><path class="o" d="M348.5,186 350.9,185.6 351.7,187.5 349.4,188.4Z"/>
<path class="f" d="M343.8,190.3 345.6,187.5 348.5,186.3 349.4,188.4 351.7,188.2 351.3,191 349.2,193.1 345.6,194.1 343.2,193.8Z" fill="#FFFFB5" stroke="#FFFFB5"/><path class="o" d="M343.8,190.3 345.6,187.5 348.5,186.3 349.4,188.4 351.7,188.2 351.3,191 349.2,193.1 345.6,194.1 343.2,193.8Z"/>
<path class="f" d="M417.9,202.9 420,202.5 422.1,204.6 423.3,207.1 424.2,208.3 422.5,208.8 421.7,207.1 420.4,205.4 418.3,204Z" fill="#38AABA" stroke="#38AABA"/><path class="o" d="M417.9,202.9 420,202.5 422.1,204.6 423.3,207.1 424.2,208.3 422.5,208.8 421.7,207.1 420.4,205.4 418.3,204Z"/>
<path class="f" d="M418.8,220.4 420.8,219.2 422.1,219.3 423.3,220.8 421.7,222.1 419.6,222.5Z" fill="#38AABA" stroke="#38AABA"/><path class="o" d="M418.8,220.4 420.8,219.2 422.1,219.3 423.3,220.8 421.7,222.1 419.6,222.5Z"/>
<path class="f" d="M412.9,149.2 416.8,151.5 421.5,152.6 427.4,153.8 432.1,155.6 433.7,157.9 431.5,159.2 427.4,158.8 423.2,158.3 420.8,159.1 422.1,160.6 423.8,161.8 425.6,164.4 427.9,163.9 429.7,163 432.6,163 433.5,160.9 435.6,159.4 438.2,157.6 436.8,155.2 439.4,154.3 442.2,155.8 441.7,157.4 445,156.9 448.5,155.2 455,153.5 457.6,152.6 465.1,152.1 471.4,149.6 473.9,145.1 478.9,144.6 482.7,147.6 486.4,152.6 488.9,158.8 490.2,157.6 487.7,151.3 485.7,146.3 491.4,143.8 495.2,141.3 502.7,138.8 510.2,137 519,135 522.8,136.3 530.3,137 537.8,138.8 536.5,142.1 540.3,143.1 547.8,142.1 556.6,143.1 565.4,145.1 575.4,147.1 585.4,148.1 590,144.6 597.5,145.1 607.5,147.1 610,148.6 617.1,148.8 625.3,149.4 628.8,151.8 635.9,151.8 645.3,151.2 648.8,152.9 651.2,151.2 659.4,151.8 665.3,153.5 671.2,157.1 675.9,160.6 678.8,162.4 675.9,163.5 680.6,165.9 685.9,168.6 680.6,169.4 677.6,171.2 677.1,173.5 674.1,172.9 671.2,173.8 668.2,174.7 665.3,174.5 666.5,177.1 668.8,179.4 672.4,181.8 674.1,185.3 675.3,188.8 674.5,192.4 674.7,195.9 671.2,192.9 667.6,190 664.1,187.1 660.6,184.7 658.2,181.8 657.6,179.4 660,177.1 660.6,173.5 660.8,171.2 658.8,168.8 657.1,168.2 657.6,170.6 656.5,172.6 653.5,171.2 650.6,170 648.2,171.4 647.9,174.7 650,176.5 645.3,176.8 641.8,175.3 634.7,175.3 627.6,176.5 625.9,180.6 624.1,185.3 625.9,187.1 630,187.6 633.5,188.8 637.1,188.6 640.6,191.8 643.5,195.9 645.3,200 646.4,204 645.1,210.2 642.6,216.5 638.9,217 637.6,216.5 636.4,211.5 637.6,205.2 635.1,202.7 627.6,200.2 620.1,195.2 612.6,191.4 605,190.2 600,191.4 598.8,195.2 599.3,200.2 599.2,200.2 592.9,198.9 582.9,200.7 572.9,198.9 562.9,195.2 556.6,193.9 545.3,197.7 540.3,200.2 537.8,201.5 531.5,200.2 525.3,196.4 519,193.9 512.7,190.2 506.5,187.2 495.2,185.7 483.9,187.7 482.7,191.4 475.1,195.2 466.4,193.9 458.8,197.7 457.6,202.7 461.4,206.5 457.6,210.2 460.1,216.5 461.4,220.3 456.3,218.2 450.1,216.5 445.1,214 441.3,210.2 440.1,206.5 443.8,204 444.1,201.2 441.2,198.1 437,195.9 432.7,193.8 427.1,193.1 425.7,190.3 423.5,187.5 420,183.9 416.9,182.5 415.7,179 415,174.7 415.7,173.3 417.9,170.5 420,167.6 418.6,164.8 416.4,161.2 414.3,157.7 412.2,154.2 410.8,151.6 414.3,151.3Z" fill="#38AABA" stroke="#38AABA"/><path class="o" d="M412.9,149.2 416.8,151.5 421.5,152.6 427.4,153.8 432.1,155.6 433.7,157.9 431.5,159.2 427.4,158.8 423.2,158.3 420.8,159.1 422.1,160.6 423.8,161.8 425.6,164.4 427.9,163.9 429.7,163 432.6,163 433.5,160.9 435.6,159.4 438.2,157.6 436.8,155.2 439.4,154.3 442.2,155.8 441.7,157.4 445,156.9 448.5,155.2 455,153.5 457.6,152.6 465.1,152.1 471.4,149.6 473.9,145.1 478.9,144.6 482.7,147.6 486.4,152.6 488.9,158.8 490.2,157.6 487.7,151.3 485.7,146.3 491.4,143.8 495.2,141.3 502.7,138.8 510.2,137 519,135 522.8,136.3 530.3,137 537.8,138.8 536.5,142.1 540.3,143.1 547.8,142.1 556.6,143.1 565.4,145.1 575.4,147.1 585.4,148.1 590,144.6 597.5,145.1 607.5,147.1 610,148.6 617.1,148.8 625.3,149.4 628.8,151.8 635.9,151.8 645.3,151.2 648.8,152.9 651.2,151.2 659.4,151.8 665.3,153.5 671.2,157.1 675.9,160.6 678.8,162.4 675.9,163.5 680.6,165.9 685.9,168.6 680.6,169.4 677.6,171.2 677.1,173.5 674.1,172.9 671.2,173.8 668.2,174.7 665.3,174.5 666.5,177.1 668.8,179.4 672.4,181.8 674.1,185.3 675.3,188.8 674.5,192.4 674.7,195.9 671.2,192.9 667.6,190 664.1,187.1 660.6,184.7 658.2,181.8 657.6,179.4 660,177.1 660.6,173.5 660.8,171.2 658.8,168.8 657.1,168.2 657.6,170.6 656.5,172.6 653.5,171.2 650.6,170 648.2,171.4 647.9,174.7 650,176.5 645.3,176.8 641.8,175.3 634.7,175.3 627.6,176.5 625.9,180.6 624.1,185.3 625.9,187.1 630,187.6 633.5,188.8 637.1,188.6 640.6,191.8 643.5,195.9 645.3,200 646.4,204 645.1,210.2 642.6,216.5 638.9,217 637.6,216.5 636.4,211.5 637.6,205.2 635.1,202.7 627.6,200.2 620.1,195.2 612.6,191.4 605,190.2 600,191.4 598.8,195.2 599.3,200.2 599.2,200.2 592.9,198.9 582.9,200.7 572.9,198.9 562.9,195.2 556.6,193.9 545.3,197.7 540.3,200.2 537.8,201.5 531.5,200.2 525.3,196.4 519,193.9 512.7,190.2 506.5,187.2 495.2,185.7 483.9,187.7 482.7,191.4 475.1,195.2 466.4,193.9 458.8,197.7 457.6,202.7 461.4,206.5 457.6,210.2 460.1,216.5 461.4,220.3 456.3,218.2 450.1,216.5 445.1,214 441.3,210.2 440.1,206.5 443.8,204 444.1,201.2 441.2,198.1 437,195.9 432.7,193.8 427.1,193.1 425.7,190.3 423.5,187.5 420,183.9 416.9,182.5 415.7,179 415,174.7 415.7,173.3 417.9,170.5 420,167.6 418.6,164.8 416.4,161.2 414.3,157.7 412.2,154.2 410.8,151.6 414.3,151.3Z"/>
<path class="f" d="M447.1,147.6 448.8,141.3 455.1,138 466.4,136.3 467.1,138 457.6,140.6 452.6,143.8 451.3,148.8 453.8,151.3 448.8,151.3Z" fill="#38AABA" stroke="#38AABA"/><path class="o" d="M447.1,147.6 448.8,141.3 455.1,138 466.4,136.3 467.1,138 457.6,140.6 452.6,143.8 451.3,148.8 453.8,151.3 448.8,151.3Z"/>
<path class="f" d="M493.9,130 500.2,128.8 506.5,130 516.5,132 517.7,133.8 510.2,133 502.7,132.5 495.2,131.8Z" fill="#38AABA" stroke="#38AABA"/><path class="o" d="M493.9,130 500.2,128.8 506.5,130 516.5,132 517.7,133.8 510.2,133 502.7,132.5 495.2,131.8Z"/>
<path class="f" d="M574.1,138.8 580.4,138 587.9,138.8 595.4,140.1 594.2,141.3 585.4,140.6 576.6,140.6Z" fill="#38AABA" stroke="#38AABA"/><path class="o" d="M574.1,138.8 580.4,138 587.9,138.8 595.4,140.1 594.2,141.3 585.4,140.6 576.6,140.6Z"/>
<path class="f" d="M427.5,129.5 435,129.5 433.8,130.8 428,130.8Z" fill="#38AABA" stroke="#38AABA"/><path class="o" d="M427.5,129.5 435,129.5 433.8,130.8 428,130.8Z"/>
<path class="f" d="M638.9,187.7 643.9,192.7 650.2,200.2 655.7,207.7 657.2,209 652.7,201.5 647.1,193.9 641.4,188.2Z" fill="#38AABA" stroke="#38AABA"/><path class="o" d="M638.9,187.7 643.9,192.7 650.2,200.2 655.7,207.7 657.2,209 652.7,201.5 647.1,193.9 641.4,188.2Z"/>
<path class="f" d="M459,229 460,227.5 462,227.2 464.5,228 468,228 469.2,229.2 471.2,231 474,232.2 477,232.2 479,231 484,229.5 488,230 492,231.5 496,233.5 497,235.5 495.5,237 496.5,241 498,245 499,249 500,251.2 502,250.8 506,250.2 508.5,248.8 511,246.2 514,243.8 514.3,240.1 516,237.6 515.2,233.8 518.5,231.5 523.2,228.9 526.9,231 531,233.5 531,233.4 535,240 538,245 542,250 550,253 558,255 564,255.4 568,255 572,252 577,253 579,257 582,260 584,265 587,268 590,271.4 594,270 598,269 602,271 605,273 608,272 608,272 606.9,275.7 607.2,279.9 608,283 609.5,285.9 611.4,288.7 613,291.5 613.7,294.4 612.9,297.6 610.5,300.5 607.6,303.3 604.9,305.4 603.4,303.3 601.2,300.5 599.1,298.3 597,296.9 594.2,294.1 592,293.4 590.6,294.8 589.6,298.3 588.8,304 590.6,307.5 593.5,311.1 597,313.2 600.5,316.7 602.7,321.7 602.9,325.2 601.2,324.7 599.1,321 596.3,316.7 594.2,312.5 591.3,309.7 589.2,306.8 587.8,303.3 588.2,298.3 587.1,292.7 585.7,288.4 584,285.9 583.6,281 582.4,285 580,287 577,283 574,278 570,273 568,270 565,272 560,276 555,282 550,287 547,293 546,300 543,306 541,307 538,301 534,293 531,285 529,278 527,273 524,274 521,271 520,268 517,265 514,263 510,262.6 506,263 501,263 497,262.2 494,261.5 491,261 489,259.5 487.5,260.5 484.5,260 482,258 479,256 476.5,254 474.5,251.5 472,250 470.5,251.2 469.2,250.2 468.5,248.5 467,245.5 464.5,242.5 462.5,239.5 463,237 460.5,235 459,232.5Z" fill="#38AABA" stroke="#38AABA"/><path class="o" d="M459,229 460,227.5 462,227.2 464.5,228 468,228 469.2,229.2 471.2,231 474,232.2 477,232.2 479,231 484,229.5 488,230 492,231.5 496,233.5 497,235.5 495.5,237 496.5,241 498,245 499,249 500,251.2 502,250.8 506,250.2 508.5,248.8 511,246.2 514,243.8 514.3,240.1 516,237.6 515.2,233.8 518.5,231.5 523.2,228.9 526.9,231 531,233.5 531,233.4 535,240 538,245 542,250 550,253 558,255 564,255.4 568,255 572,252 577,253 579,257 582,260 584,265 587,268 590,271.4 594,270 598,269 602,271 605,273 608,272 608,272 606.9,275.7 607.2,279.9 608,283 609.5,285.9 611.4,288.7 613,291.5 613.7,294.4 612.9,297.6 610.5,300.5 607.6,303.3 604.9,305.4 603.4,303.3 601.2,300.5 599.1,298.3 597,296.9 594.2,294.1 592,293.4 590.6,294.8 589.6,298.3 588.8,304 590.6,307.5 593.5,311.1 597,313.2 600.5,316.7 602.7,321.7 602.9,325.2 601.2,324.7 599.1,321 596.3,316.7 594.2,312.5 591.3,309.7 589.2,306.8 587.8,303.3 588.2,298.3 587.1,292.7 585.7,288.4 584,285.9 583.6,281 582.4,285 580,287 577,283 574,278 570,273 568,270 565,272 560,276 555,282 550,287 547,293 546,300 543,306 541,307 538,301 534,293 531,285 529,278 527,273 524,274 521,271 520,268 517,265 514,263 510,262.6 506,263 501,263 497,262.2 494,261.5 491,261 489,259.5 487.5,260.5 484.5,260 482,258 479,256 476.5,254 474.5,251.5 472,250 470.5,251.2 469.2,250.2 468.5,248.5 467,245.5 464.5,242.5 462.5,239.5 463,237 460.5,235 459,232.5Z"/>
<path class="f" d="M546,304 548.4,303 550.4,307 550,311 547.6,312.4 546,309Z" fill="#38AABA" stroke="#38AABA"/><path class="o" d="M546,304 548.4,303 550.4,307 550,311 547.6,312.4 546,309Z"/>
<path class="f" d="M537.8,201.5 540.3,200.2 542.8,204 547.8,206.5 555.3,210.2 560.4,214 567.9,216.5 576.6,219 585.4,219.7 592.9,216.5 595.4,211.5 600.5,208.2 606.7,205.2 599.2,200.2 598.8,195.2 600,191.4 605,190.2 612.6,191.4 620.1,195.2 627.6,200.2 635.1,202.7 637.6,205.2 636.4,211.5 637.6,216.5 636.5,217.1 633.5,219.4 630,221.8 627.6,224.1 625.3,225.3 622.9,226.5 621.8,223.5 620.6,222.4 618.8,224.1 616.5,225.9 614.7,227.3 617.6,229.4 620.6,231.2 623.5,230.8 626.5,231.8 625.3,233.5 622.9,235.3 622.4,237.1 625.3,239.4 628.2,242.4 631.2,245.3 632,248.2 633.5,250.6 633.9,253.5 632.4,256.5 631.5,260 630,263.5 628.2,267.1 625.3,270 621,268 616,270.6 613,272 611.6,275.4 610,273 608,272 605,273 602,271 598,269 594,270 590,271.4 587,268 584,265 582,260 579,257 577,253 572,252 568,255 564,255.4 558,255 550,253 542,250 538,245 535,240 531,233.4 531,233.5 526.9,231 523.5,230.1 521.9,227.6 522.7,224.3 525.2,221.8 529.4,219.3 531.9,215.9 529.4,212.6 531,210.1 532.7,205.9 536.9,203.4 537.7,200Z" fill="#4A6AA5" stroke="#4A6AA5"/><path class="o" d="M537.8,201.5 540.3,200.2 542.8,204 547.8,206.5 555.3,210.2 560.4,214 567.9,216.5 576.6,219 585.4,219.7 592.9,216.5 595.4,211.5 600.5,208.2 606.7,205.2 599.2,200.2 598.8,195.2 600,191.4 605,190.2 612.6,191.4 620.1,195.2 627.6,200.2 635.1,202.7 637.6,205.2 636.4,211.5 637.6,216.5 636.5,217.1 633.5,219.4 630,221.8 627.6,224.1 625.3,225.3 622.9,226.5 621.8,223.5 620.6,222.4 618.8,224.1 616.5,225.9 614.7,227.3 617.6,229.4 620.6,231.2 623.5,230.8 626.5,231.8 625.3,233.5 622.9,235.3 622.4,237.1 625.3,239.4 628.2,242.4 631.2,245.3 632,248.2 633.5,250.6 633.9,253.5 632.4,256.5 631.5,260 630,263.5 628.2,267.1 625.3,270 621,268 616,270.6 613,272 611.6,275.4 610,273 608,272 605,273 602,271 598,269 594,270 590,271.4 587,268 584,265 582,260 579,257 577,253 572,252 568,255 564,255.4 558,255 550,253 542,250 538,245 535,240 531,233.4 531,233.5 526.9,231 523.5,230.1 521.9,227.6 522.7,224.3 525.2,221.8 529.4,219.3 531.9,215.9 529.4,212.6 531,210.1 532.7,205.9 536.9,203.4 537.7,200Z"/>
<path class="f" d="M610,277 612,276 614,277.4 613.6,280 611,281 609.6,279Z" fill="#4A6AA5" stroke="#4A6AA5"/><path class="o" d="M610,277 612,276 614,277.4 613.6,280 611,281 609.6,279Z"/>
<path d="M633.5,263.5 635.3,262.4 636.5,264.1 635.9,268.2 634.4,269.4 633.2,267.1Z" fill="url(#hatch)"/><path class="n" d="M633.5,263.5 635.3,262.4 636.5,264.1 635.9,268.2 634.4,269.4 633.2,267.1Z"/>
<path class="f" d="M540.3,200.7 545.3,197.7 556.6,193.9 562.9,195.2 572.9,198.9 582.9,200.7 592.9,198.9 599.2,200.2 606.7,205.2 600.5,208.2 595.4,211.5 592.9,216.5 585.4,219.7 576.6,219 567.9,216.5 560.4,214 555.3,210.2 547.8,206.5 542.8,204Z" fill="#FFFFB5" stroke="#FFFFB5"/><path class="o" d="M540.3,200.7 545.3,197.7 556.6,193.9 562.9,195.2 572.9,198.9 582.9,200.7 592.9,198.9 599.2,200.2 606.7,205.2 600.5,208.2 595.4,211.5 592.9,216.5 585.4,219.7 576.6,219 567.9,216.5 560.4,214 555.3,210.2 547.8,206.5 542.8,204Z"/>
<path class="f" d="M457.5,199.2 460.9,195.9 465.9,194.2 473.4,195.9 480.9,194.2 484.3,191.7 482.6,188.4 489.3,186.7 496.8,185 503.5,187.5 510.2,187.5 515.2,190 520.2,194.2 525.2,196.7 532.7,198.4 537.7,200 536.9,203.4 532.7,205.9 531,210.1 529.4,212.6 531.9,215.9 528.5,217.1 521.9,216.4 516.8,215.9 513.5,217.6 511,220.9 513.5,223.8 511.8,225.4 509.3,225.1 510.2,229.3 508.8,232.6 505.2,231 502.6,229.3 499.3,226.8 495.1,224.3 491,222.6 488.4,220.4 484.3,219.8 480.9,221.8 480.1,220.9 475.9,220.9 473.4,219.8 472.6,215.9 469.7,213.4 470.9,210.9 471.7,207.6 467.6,206.7 463.4,209.2 460.9,207.6 461.7,204.2 458.4,202.6Z" fill="#FFFFB5" stroke="#FFFFB5"/><path class="o" d="M457.5,199.2 460.9,195.9 465.9,194.2 473.4,195.9 480.9,194.2 484.3,191.7 482.6,188.4 489.3,186.7 496.8,185 503.5,187.5 510.2,187.5 515.2,190 520.2,194.2 525.2,196.7 532.7,198.4 537.7,200 536.9,203.4 532.7,205.9 531,210.1 529.4,212.6 531.9,215.9 528.5,217.1 521.9,216.4 516.8,215.9 513.5,217.6 511,220.9 513.5,223.8 511.8,225.4 509.3,225.1 510.2,229.3 508.8,232.6 505.2,231 502.6,229.3 499.3,226.8 495.1,224.3 491,222.6 488.4,220.4 484.3,219.8 480.9,221.8 480.1,220.9 475.9,220.9 473.4,219.8 472.6,215.9 469.7,213.4 470.9,210.9 471.7,207.6 467.6,206.7 463.4,209.2 460.9,207.6 461.7,204.2 458.4,202.6Z"/>
<path class="f" d="M474,219 476,218.5 477.5,219 479,221 481.5,220.5 484,218.5 486,217.5 488.5,218.5 491,220.8 494,221.5 496,223.5 499,225 502,226.5 504.5,228.5 506,229.5 507,230 509,231 509.5,229 508,227 507.5,226 509.5,225 510.5,223.5 510,222 512,221.2 512.5,219 513,217.5 516,217.2 519.5,216.5 525,217.2 529,217.5 531.5,218 529,220 526,221.5 523.5,223 521,224.5 521.5,226.5 523,228.5 524.5,230.5 524,232 521,232.5 519,231.5 518.5,233.5 519,236 518.5,239 517,241.5 515,244 513,245.5 510.5,247 509.5,249.5 509,251.5 505,252 501,252.2 499,251 498,248 497,245 496,241 496,237.5 497,236 495,234.5 494,233 492,231.5 489,230.5 485.5,229.5 483,229.5 480,230.5 478.5,231 477.5,228 476,224.5 475,221.5Z" fill="#FDAE61" stroke="#FDAE61"/><path class="o" d="M474,219 476,218.5 477.5,219 479,221 481.5,220.5 484,218.5 486,217.5 488.5,218.5 491,220.8 494,221.5 496,223.5 499,225 502,226.5 504.5,228.5 506,229.5 507,230 509,231 509.5,229 508,227 507.5,226 509.5,225 510.5,223.5 510,222 512,221.2 512.5,219 513,217.5 516,217.2 519.5,216.5 525,217.2 529,217.5 531.5,218 529,220 526,221.5 523.5,223 521,224.5 521.5,226.5 523,228.5 524.5,230.5 524,232 521,232.5 519,231.5 518.5,233.5 519,236 518.5,239 517,241.5 515,244 513,245.5 510.5,247 509.5,249.5 509,251.5 505,252 501,252.2 499,251 498,248 497,245 496,241 496,237.5 497,236 495,234.5 494,233 492,231.5 489,230.5 485.5,229.5 483,229.5 480,230.5 478.5,231 477.5,228 476,224.5 475,221.5Z"/>
<path class="f" d="M450.4,215.9 455.9,217.1 460.9,220.1 458.4,221.8 455,220.4 450.9,219.3Z" fill="#4A6AA5" stroke="#4A6AA5"/><path class="o" d="M450.4,215.9 455.9,217.1 460.9,220.1 458.4,221.8 455,220.4 450.9,219.3Z"/>
<path class="f" d="M455.9,221.8 458.4,221.8 460.9,224.8 462.1,227.1 459.7,226.4 457,224.3Z" fill="#FDAE61" stroke="#FDAE61"/><path class="o" d="M455.9,221.8 458.4,221.8 460.9,224.8 462.1,227.1 459.7,226.4 457,224.3Z"/>
<path class="f" d="M458.4,221.8 460.9,220.1 465.1,220.9 467.6,223.4 468.4,227.6 465.9,226.8 463.4,227.6 462.1,227.1 460.9,224.8Z" fill="#FFFFB5" stroke="#FFFFB5"/><path class="o" d="M458.4,221.8 460.9,220.1 465.1,220.9 467.6,223.4 468.4,227.6 465.9,226.8 463.4,227.6 462.1,227.1 460.9,224.8Z"/>
<path class="f" d="M416.4,218.4 420,217.7 421.4,219.8 419.3,221.2 417.2,220.5Z" fill="#38AABA" stroke="#38AABA"/><path class="o" d="M416.4,218.4 420,217.7 421.4,219.8 419.3,221.2 417.2,220.5Z"/>
<path class="f" d="M420,224 423.5,222.6 428.5,221.2 434.2,219.8 439.8,219.1 445.5,219.8 450.4,220.5 450,220.9 455.9,221.8 457,224.3 459.7,226.4 459,232.5 456.5,231.2 454,231.5 450,232.5 446,233.5 442,235.5 441.2,235 440.5,233 438,233.5 434,234.2 430,233.8 431.3,235.1 427.8,233.4 424.2,232.7 421.7,230.3 420,227.6Z" fill="#38AABA" stroke="#38AABA"/><path class="o" d="M420,224 423.5,222.6 428.5,221.2 434.2,219.8 439.8,219.1 445.5,219.8 450.4,220.5 450,220.9 455.9,221.8 457,224.3 459.7,226.4 459,232.5 456.5,231.2 454,231.5 450,232.5 446,233.5 442,235.5 441.2,235 440.5,233 438,233.5 434,234.2 430,233.8 431.3,235.1 427.8,233.4 424.2,232.7 421.7,230.3 420,227.6Z"/>
<path class="f" d="M433,236.8 435,235.8 437.5,235 437,236.2 435.5,237.5 433.8,238Z" fill="#38AABA" stroke="#38AABA"/><path class="o" d="M433,236.8 435,235.8 437.5,235 437,236.2 435.5,237.5 433.8,238Z"/>
<path class="f" d="M442,235.5 446,233.5 450,232.5 454,231.5 453.5,234.5 452.5,237 450,239 447.5,241 445,243 442.5,244 441.5,242 442.2,239.5 441.2,238Z" fill="#FDAE61" stroke="#FDAE61"/><path class="o" d="M442,235.5 446,233.5 450,232.5 454,231.5 453.5,234.5 452.5,237 450,239 447.5,241 445,243 442.5,244 441.5,242 442.2,239.5 441.2,238Z"/>
<path class="f" d="M440.8,238.5 442.2,238 442.2,241 440.8,241.5Z" fill="#38AABA" stroke="#38AABA"/><path class="o" d="M440.8,238.5 442.2,238 442.2,241 440.8,241.5Z"/>
<path class="f" d="M440,242.5 441.5,241.8 442.5,244 442,246.5 441.2,249.5 440.5,251 440,246.5Z" fill="#38AABA" stroke="#38AABA"/><path class="o" d="M440,242.5 441.5,241.8 442.5,244 442,246.5 441.2,249.5 440.5,251 440,246.5Z"/>
<path class="f" d="M442.5,244 445,243 447.5,241 449,244.5 446.5,246.5 446,249 444,250.5 441.2,251.5 440.8,250.5 441.8,246.5Z" fill="#38AABA" stroke="#38AABA"/><path class="o" d="M442.5,244 445,243 447.5,241 449,244.5 446.5,246.5 446,249 444,250.5 441.2,251.5 440.8,250.5 441.8,246.5Z"/>
<path class="f" d="M441.2,251.5 444,250.5 446,249 446.5,246.5 449,244.5 451,245.5 455,247.5 459,249.5 462,252 465,252.5 467,251 468.5,253.5 470,254.2 471.5,256.5 474,259.5 475.5,261.5 477,264.5 479,266 480,268.5 484,270 488,270.5 487.5,274 486,276 482,278.5 477,279.5 473,281 471,283 469.5,284 461,284 459,281.5 456.5,278 453.5,274 450.5,270 448,265 445,260 442,256 440.5,253.5Z" fill="#4A6AA5" stroke="#4A6AA5"/><path class="o" d="M441.2,251.5 444,250.5 446,249 446.5,246.5 449,244.5 451,245.5 455,247.5 459,249.5 462,252 465,252.5 467,251 468.5,253.5 470,254.2 471.5,256.5 474,259.5 475.5,261.5 477,264.5 479,266 480,268.5 484,270 488,270.5 487.5,274 486,276 482,278.5 477,279.5 473,281 471,283 469.5,284 461,284 459,281.5 456.5,278 453.5,274 450.5,270 448,265 445,260 442,256 440.5,253.5Z"/>
<path class="f" d="M453.5,234.5 454,231.5 456.5,231.2 459,232.5 460.5,235 463,237 462.5,239.5 464.5,242.5 467,245.5 468.5,248.5 469.2,250.5 467,250.8 465,252.5 462,252 459,249.5 455,247.5 451,245.5 449,244.5 447.5,241 450,239 452.5,237Z" fill="#4A6AA5" stroke="#4A6AA5"/><path class="o" d="M453.5,234.5 454,231.5 456.5,231.2 459,232.5 460.5,235 463,237 462.5,239.5 464.5,242.5 467,245.5 468.5,248.5 469.2,250.5 467,250.8 465,252.5 462,252 459,249.5 455,247.5 451,245.5 449,244.5 447.5,241 450,239 452.5,237Z"/>
<path class="f" d="M467,250.8 469.2,250.2 470.5,252 470,254 468.5,253.5 467.2,252.2Z" fill="#FFFFB5" stroke="#FFFFB5"/><path class="o" d="M467,250.8 469.2,250.2 470.5,252 470,254 468.5,253.5 467.2,252.2Z"/>
<path class="f" d="M476.8,261.2 478.2,260.8 478.8,262.8 478.2,264.5 477,264Z" fill="#38AABA" stroke="#38AABA"/><path class="o" d="M476.8,261.2 478.2,260.8 478.8,262.8 478.2,264.5 477,264Z"/>
<path class="f" d="M479.5,266 482,265.5 485,264.5 487.5,262 489,260.8 489.8,262.5 489.2,265 488,268 487.5,270 484,270 480,268.8Z" fill="#FFFFB5" stroke="#FFFFB5"/><path class="o" d="M479.5,266 482,265.5 485,264.5 487.5,262 489,260.8 489.8,262.5 489.2,265 488,268 487.5,270 484,270 480,268.8Z"/>
<path class="f" d="M489.2,265 490.5,264.5 494,267 498,270.5 496.5,274 494,278 492,281 489,283 486,285 483.2,285.3 482,282.5 482,278.5 486,276 487.5,274 488,270.5 488,268Z" fill="#4A6AA5" stroke="#4A6AA5"/><path class="o" d="M489.2,265 490.5,264.5 494,267 498,270.5 496.5,274 494,278 492,281 489,283 486,285 483.2,285.3 482,282.5 482,278.5 486,276 487.5,274 488,270.5 488,268Z"/>
<path class="f" d="M489,259.5 490,259 490.2,260.8 489.4,261Z" fill="#4A6AA5" stroke="#4A6AA5"/><path class="o" d="M489,259.5 490,259 490.2,260.8 489.4,261Z"/>
<path class="f" d="M461,284 469.5,284 471,283 473,281 477,279.5 482,278.5 482,282.5 483.2,285.1 481.9,287.6 476.8,289.8 471.8,291.8 466.8,293.5 462.6,295.1 461,291.8 460,287.5Z" fill="#FFFFB5" stroke="#FFFFB5"/><path class="o" d="M461,284 469.5,284 471,283 473,281 477,279.5 482,278.5 482,282.5 483.2,285.1 481.9,287.6 476.8,289.8 471.8,291.8 466.8,293.5 462.6,295.1 461,291.8 460,287.5Z"/>
<path class="f" d="M627.6,224.1 630,221.8 633.5,219.4 636.5,217.1 638.2,217.6 639.4,219.4 637.6,221.8 635.3,224.1 635.9,226.5 634.7,228.2 632.4,229.4 630.4,227.6 628.8,225.9Z" fill="#38AABA" stroke="#38AABA"/><path class="o" d="M627.6,224.1 630,221.8 633.5,219.4 636.5,217.1 638.2,217.6 639.4,219.4 637.6,221.8 635.3,224.1 635.9,226.5 634.7,228.2 632.4,229.4 630.4,227.6 628.8,225.9Z"/>
<path class="f" d="M634.7,228.5 636.5,227.6 638.8,228.8 641.2,231.8 643.3,234.7 643.8,236.5 641.8,237.9 639.4,238.2 637.6,235.9 636.5,232.9 635.3,230.6Z" fill="#38AABA" stroke="#38AABA"/><path class="o" d="M634.7,228.5 636.5,227.6 638.8,228.8 641.2,231.8 643.3,234.7 643.8,236.5 641.8,237.9 639.4,238.2 637.6,235.9 636.5,232.9 635.3,230.6Z"/>
<path class="f" d="M655.9,210.6 658.8,211.8 661.8,213.5 664.1,212.9 666.8,214.7 665.3,216.5 662.4,216.5 660.6,218.8 658.2,219.4 656.5,217.6 656.2,215.3 657.6,213.5Z" fill="#4A6AA5" stroke="#4A6AA5"/><path class="o" d="M655.9,210.6 658.8,211.8 661.8,213.5 664.1,212.9 666.8,214.7 665.3,216.5 662.4,216.5 660.6,218.8 658.2,219.4 656.5,217.6 656.2,215.3 657.6,213.5Z"/>
<path class="f" d="M659.4,221.2 661.8,221.8 664.1,224.1 665.3,227.6 666.5,231.2 668,234.7 667.1,237.1 664.1,238.2 661.2,240.6 658.8,240.6 657.1,238.8 655.3,239.4 653.5,238.2 651.8,238.8 649.4,239.4 650,237.6 652.4,236.5 655.3,235.3 657.6,234.1 657.6,231.8 660.6,230.6 661.8,227.6 660.6,224.1Z" fill="#4A6AA5" stroke="#4A6AA5"/><path class="o" d="M659.4,221.2 661.8,221.8 664.1,224.1 665.3,227.6 666.5,231.2 668,234.7 667.1,237.1 664.1,238.2 661.2,240.6 658.8,240.6 657.1,238.8 655.3,239.4 653.5,238.2 651.8,238.8 649.4,239.4 650,237.6 652.4,236.5 655.3,235.3 657.6,234.1 657.6,231.8 660.6,230.6 661.8,227.6 660.6,224.1Z"/>
<path class="f" d="M647.1,241.2 649.4,240 651.8,241.8 652.4,244.1 651.8,247.1 650.4,247.1 648.8,244.7 647.6,242.9Z" fill="#4A6AA5" stroke="#4A6AA5"/><path class="o" d="M647.1,241.2 649.4,240 651.8,241.8 652.4,244.1 651.8,247.1 650.4,247.1 648.8,244.7 647.6,242.9Z"/>
<path class="f" d="M653.5,240 656.5,239.8 657.1,241.4 654.4,242.1Z" fill="#4A6AA5" stroke="#4A6AA5"/><path class="o" d="M653.5,240 656.5,239.8 657.1,241.4 654.4,242.1Z"/>
<path class="f" d="M636.7,281 640.2,280.2 641.6,282.7 641.2,287 640.2,289.8 642.3,292 645.9,291.2 647.3,293.4 649.4,295.5 651.5,297.6 650.8,300.5 648.7,299 646.6,296.9 644.4,294.8 642.3,294.1 640.2,292.7 638.1,289.8 636.9,285.6Z" fill="#38AABA" stroke="#38AABA"/><path class="o" d="M636.7,281 640.2,280.2 641.6,282.7 641.2,287 640.2,289.8 642.3,292 645.9,291.2 647.3,293.4 649.4,295.5 651.5,297.6 650.8,300.5 648.7,299 646.6,296.9 644.4,294.8 642.3,294.1 640.2,292.7 638.1,289.8 636.9,285.6Z"/>
<path class="f" d="M642.3,298.3 645.2,297.6 647.3,300.5 646.6,304 644.4,302.6 643,300.5Z" fill="#38AABA" stroke="#38AABA"/><path class="o" d="M642.3,298.3 645.2,297.6 647.3,300.5 646.6,304 644.4,302.6 643,300.5Z"/>
<path class="f" d="M648,301.9 650.8,302.6 650.1,305.4 648,304.7Z" fill="#38AABA" stroke="#38AABA"/><path class="o" d="M648,301.9 650.8,302.6 650.1,305.4 648,304.7Z"/>
<path class="f" d="M643.7,308.2 646.6,307.1 649.4,306.1 651.5,304 652.9,305.4 653.9,309 652.9,312.5 650.8,313.6 649.1,311.8 648,309.7 645.9,310.4 644,309.9Z" fill="#38AABA" stroke="#38AABA"/><path class="o" d="M643.7,308.2 646.6,307.1 649.4,306.1 651.5,304 652.9,305.4 653.9,309 652.9,312.5 650.8,313.6 649.1,311.8 648,309.7 645.9,310.4 644,309.9Z"/>
<path class="f" d="M632.4,305.4 634.5,302.6 636.7,299.7 637.8,300 635.9,303.3 633.5,306.1Z" fill="#38AABA" stroke="#38AABA"/><path class="o" d="M632.4,305.4 634.5,302.6 636.7,299.7 637.8,300 635.9,303.3 633.5,306.1Z"/>
<path class="f" d="M614.7,324.5 617.5,323.1 622.5,321 626.7,317.5 629.6,313.2 632.4,311.1 634.5,312.5 637.4,315.3 634.5,318.2 633.8,321 635.9,323.8 635.2,326.7 633.1,330.9 631,335.2 629.6,338.7 625.3,338 621.1,336.6 617.5,335.9 616.1,330.9 614.7,327.4Z" fill="#38AABA" stroke="#38AABA"/><path class="o" d="M614.7,324.5 617.5,323.1 622.5,321 626.7,317.5 629.6,313.2 632.4,311.1 634.5,312.5 637.4,315.3 634.5,318.2 633.8,321 635.9,323.8 635.2,326.7 633.1,330.9 631,335.2 629.6,338.7 625.3,338 621.1,336.6 617.5,335.9 616.1,330.9 614.7,327.4Z"/>
<path class="f" d="M626.7,315.3 628.2,314.8 628.9,316.5 627.3,317.2Z" fill="#FFFFB5" stroke="#FFFFB5"/><path class="o" d="M626.7,315.3 628.2,314.8 628.9,316.5 627.3,317.2Z"/>
<path class="f" d="M582.1,315.3 585.7,314.6 589.9,318.2 594.2,322.4 599.1,325.9 602.7,329.5 605.5,333.7 606.9,338 606.2,343.7 603.4,342.9 599.8,338 596.3,333 592,327.4 587.8,321.7 584.2,318.2Z" fill="#38AABA" stroke="#38AABA"/><path class="o" d="M582.1,315.3 585.7,314.6 589.9,318.2 594.2,322.4 599.1,325.9 602.7,329.5 605.5,333.7 606.9,338 606.2,343.7 603.4,342.9 599.8,338 596.3,333 592,327.4 587.8,321.7 584.2,318.2Z"/>
<path class="f" d="M638.1,328.8 640.2,325.9 644.4,325.2 649.4,324.5 651.5,325 648.7,327.4 644.4,328.1 641.6,329.5 642.3,332.3 645.9,330.9 646.6,332.3 643.7,334.4 645.2,338 646.6,341.5 644.4,342.2 642.3,338.7 640.9,335.9 640.2,339.4 640.9,342.9 638.1,342.9 637.4,336.6 637.8,332.3Z" fill="#38AABA" stroke="#38AABA"/><path class="o" d="M638.1,328.8 640.2,325.9 644.4,325.2 649.4,324.5 651.5,325 648.7,327.4 644.4,328.1 641.6,329.5 642.3,332.3 645.9,330.9 646.6,332.3 643.7,334.4 645.2,338 646.6,341.5 644.4,342.2 642.3,338.7 640.9,335.9 640.2,339.4 640.9,342.9 638.1,342.9 637.4,336.6 637.8,332.3Z"/>
<path class="f" d="M657.2,323.5 658.6,323.1 659.6,326.7 658.6,330.2 657.6,328.1Z" fill="#38AABA" stroke="#38AABA"/><path class="o" d="M657.2,323.5 658.6,323.1 659.6,326.7 658.6,330.2 657.6,328.1Z"/>
<path class="f" d="M605.5,344.8 609.7,344.4 615.4,346.5 621.1,347.2 626.7,349.3 628.9,350.7 625.3,351.9 619.7,350.7 614,349.3 608.3,347.9Z" fill="#38AABA" stroke="#38AABA"/><path class="o" d="M605.5,344.8 609.7,344.4 615.4,346.5 621.1,347.2 626.7,349.3 628.9,350.7 625.3,351.9 619.7,350.7 614,349.3 608.3,347.9Z"/>
<path class="f" d="M631.4,350.6 636.4,350.1 637.1,351.9 632.1,352.6Z" fill="#38AABA" stroke="#38AABA"/><path class="o" d="M631.4,350.6 636.4,350.1 637.1,351.9 632.1,352.6Z"/>
<path class="f" d="M638.9,350.6 643.9,350.1 644.6,352.1 639.6,352.6Z" fill="#38AABA" stroke="#38AABA"/><path class="o" d="M638.9,350.6 643.9,350.1 644.6,352.1 639.6,352.6Z"/>
<path class="f" d="M646.4,353.9 650.9,351.6 651.4,354.1 648.1,355.6Z" fill="#38AABA" stroke="#38AABA"/><path class="o" d="M646.4,353.9 650.9,351.6 651.4,354.1 648.1,355.6Z"/>
<path class="f" d="M650.9,351.6 655.7,350.1 655.7,352.1 651.4,354.1Z" fill="#FFFFB5" stroke="#FFFFB5"/><path class="o" d="M650.9,351.6 655.7,350.1 655.7,352.1 651.4,354.1Z"/>
<path class="f" d="M653.7,337.3 657.2,336.3 661.4,335.9 664.7,337.3 660.7,338.7 656.5,338.3Z" fill="#38AABA" stroke="#38AABA"/><path class="o" d="M653.7,337.3 657.2,336.3 661.4,335.9 664.7,337.3 660.7,338.7 656.5,338.3Z"/>
<path class="f" d="M335,255.2 339.2,251.7 342.8,247.4 344.9,243.2 347.7,239.6 351.3,236.1 356.2,235.4 360.5,236.1 366.2,234 373.2,232.5 380.6,232.1 384.6,231.5 386,234 384.6,236.8 386.7,239.6 385.3,243.2 389.5,242.5 394.5,245.3 400.2,246.7 405.1,248.8 407.2,244.6 411.5,243.2 416.4,244.6 418.3,246.7 422.8,247.4 428.5,248.1 434.2,247.7 439.1,247.1 440.5,250.9 439.5,253.1 437.7,251.7 440.5,257.3 443.4,263.7 446.2,270.1 448,278 450,283 454,287 459,293 462,297 464,301 470,301.6 480,298.6 479.8,301.8 477.6,306.8 473.4,313.4 468.4,319.4 462.6,325.2 459.2,329.4 458,331.8 455,336.8 453,344 455,350 454.4,355 456,356 456.4,366 454,372 449,375 445,379 442,383 443,389 440,393 437,396 435,398 436,400 433,406 429,411 424,415 418,417 411,417.6 406,419.6 403,417 402.4,411 401,407 400,403 398,396 395,388 392,381 390.4,377 390,373 389.6,368 391,362 393,354 393.6,349 392,344 391.6,341 390,338 387,333 384.4,329 385,326 385,323 385.6,322.4 385,319 383,316 378,317 374,314 369,312.4 366,312.4 364,312.8 360,314.4 356.4,315.2 350,315.2 345,314.6 344,317 340,314 337,310 333.6,308 333,304.4 331,305 328.4,302 327,300 325,298 324,295 323,291 326,287 327,285.6 326,280 325,276 325,273 328,267 331,262 334,257.6Z" fill="#38AABA" stroke="#38AABA"/><path class="o" d="M335,255.2 339.2,251.7 342.8,247.4 344.9,243.2 347.7,239.6 351.3,236.1 356.2,235.4 360.5,236.1 366.2,234 373.2,232.5 380.6,232.1 384.6,231.5 386,234 384.6,236.8 386.7,239.6 385.3,243.2 389.5,242.5 394.5,245.3 400.2,246.7 405.1,248.8 407.2,244.6 411.5,243.2 416.4,244.6 418.3,246.7 422.8,247.4 428.5,248.1 434.2,247.7 439.1,247.1 440.5,250.9 439.5,253.1 437.7,251.7 440.5,257.3 443.4,263.7 446.2,270.1 448,278 450,283 454,287 459,293 462,297 464,301 470,301.6 480,298.6 479.8,301.8 477.6,306.8 473.4,313.4 468.4,319.4 462.6,325.2 459.2,329.4 458,331.8 455,336.8 453,344 455,350 454.4,355 456,356 456.4,366 454,372 449,375 445,379 442,383 443,389 440,393 437,396 435,398 436,400 433,406 429,411 424,415 418,417 411,417.6 406,419.6 403,417 402.4,411 401,407 400,403 398,396 395,388 392,381 390.4,377 390,373 389.6,368 391,362 393,354 393.6,349 392,344 391.6,341 390,338 387,333 384.4,329 385,326 385,323 385.6,322.4 385,319 383,316 378,317 374,314 369,312.4 366,312.4 364,312.8 360,314.4 356.4,315.2 350,315.2 345,314.6 344,317 340,314 337,310 333.6,308 333,304.4 331,305 328.4,302 327,300 325,298 324,295 323,291 326,287 327,285.6 326,280 325,276 325,273 328,267 331,262 334,257.6Z"/>
<path d="M325,273 328,267 331,262 334,257.6 343,257 343,261 337,261.6 336,266 333,269 332,272.4Z" fill="url(#hatch)"/><path class="n" d="M325,273 328,267 331,262 334,257.6 343,257 343,261 337,261.6 336,266 333,269 332,272.4Z"/>
<path class="f" d="M325,273 332,272.4 333,269 336,266 337,261.6 343,261 343,257 345,258 351,263 349.2,263.6 350,286 343,287 336,289 331,286 327,285.6 326,280 325,276Z" fill="#E56E5A" stroke="#E56E5A"/><path class="o" d="M325,273 332,272.4 333,269 336,266 337,261.6 343,261 343,257 345,258 351,263 349.2,263.6 350,286 343,287 336,289 331,286 327,285.6 326,280 325,276Z"/>
<path class="f" d="M323,291 326,287 327.5,285.8 331,286 333.5,288 335,290.5 336.5,295.5 334,296.5 331,296.8 331,298.5 328,299.6 327,300 325,298 324,295Z" fill="#FDAE61" stroke="#FDAE61"/><path class="o" d="M323,291 326,287 327.5,285.8 331,286 333.5,288 335,290.5 336.5,295.5 334,296.5 331,296.8 331,298.5 328,299.6 327,300 325,298 324,295Z"/>
<path class="f" d="M333,304.4 334.5,302.8 337,302.5 338.8,304.5 339,307.5 337.5,309.8 337,310 333.6,308Z" fill="#FDAE61" stroke="#FDAE61"/><path class="o" d="M333,304.4 334.5,302.8 337,302.5 338.8,304.5 339,307.5 337.5,309.8 337,310 333.6,308Z"/>
<path class="f" d="M337,310 337.5,309.8 339,307.5 340,306.8 341.5,309 343.5,311 345,313 344.8,316.8 344,317 340,314Z" fill="#FFFFB5" stroke="#FFFFB5"/><path class="o" d="M337,310 337.5,309.8 339,307.5 340,306.8 341.5,309 343.5,311 345,313 344.8,316.8 344,317 340,314Z"/>
<path class="f" d="M363.2,300 365,300 366,303 366.8,312.5 364.8,313 364.2,307Z" fill="#FFFFB5" stroke="#FFFFB5"/><path class="o" d="M363.2,300 365,300 366,303 366.8,312.5 364.8,313 364.2,307Z"/>
<path class="f" d="M366,299.5 368,297 370,297.2 371.5,299.5 371,302 369.5,304.5 369,312.2 366.8,312.5 366,303 365,300Z" fill="#FDAE61" stroke="#FDAE61"/><path class="o" d="M366,299.5 368,297 370,297.2 371.5,299.5 371,302 369.5,304.5 369,312.2 366.8,312.5 366,303 365,300Z"/>
<path class="f" d="M385.3,243.2 389.5,242.5 394.5,245.3 400.2,246.7 405.1,248.8 407.2,244.6 411.5,243.2 416.4,244.6 418.3,246.7 418.6,251.7 419.7,258.7 420,271.5 419.6,277.2 414.3,275 405.8,270.8 398,267.2 395.9,269.4 390.9,267.2 386.7,263.7 384.6,258.7 385.3,251.7 384.3,247.4Z" fill="#E56E5A" stroke="#E56E5A"/><path class="o" d="M385.3,243.2 389.5,242.5 394.5,245.3 400.2,246.7 405.1,248.8 407.2,244.6 411.5,243.2 416.4,244.6 418.3,246.7 418.6,251.7 419.7,258.7 420,271.5 419.6,277.2 414.3,275 405.8,270.8 398,267.2 395.9,269.4 390.9,267.2 386.7,263.7 384.6,258.7 385.3,251.7 384.3,247.4Z"/>
<path class="f" d="M418.3,246.7 422.8,247.4 428.5,248.1 434.2,247.7 439.1,247.1 440.5,250.9 439.5,253.1 437.7,251.7 440.5,257.3 443.4,263.7 446.2,270.1 445.8,271.5 420,271.5 419.7,258.7 418.6,251.7Z" fill="#FFFFB5" stroke="#FFFFB5"/><path class="o" d="M418.3,246.7 422.8,247.4 428.5,248.1 434.2,247.7 439.1,247.1 440.5,250.9 439.5,253.1 437.7,251.7 440.5,257.3 443.4,263.7 446.2,270.1 445.8,271.5 420,271.5 419.7,258.7 418.6,251.7Z"/>
<path class="f" d="M419,271 446,271 448,278 450,283 447.6,287 446,293 444,298 441,303 439,300 438,304 434,304 428,302.4 423,304 419,301 416,301 414,295 415,289 417,283 419,277Z" fill="#4A6AA5" stroke="#4A6AA5"/><path class="o" d="M419,271 446,271 448,278 450,283 447.6,287 446,293 444,298 441,303 439,300 438,304 434,304 428,302.4 423,304 419,301 416,301 414,295 415,289 417,283 419,277Z"/>
<path class="f" d="M419.4,302.9 421.2,304.7 425.3,305.9 429.4,304.1 433.5,302.9 436.5,301.2 437.6,297.3 438.8,297.3 439.4,301.2 440.6,304.1 441.2,307.6 442.9,310.6 444.1,313.5 442.4,315.3 439.4,317.6 436.5,318.8 433.5,318 430.6,317.1 428.2,316.5 426.5,314.1 424.1,311.8 421.8,308.8 420,305.9Z" fill="#E56E5A" stroke="#E56E5A"/><path class="o" d="M419.4,302.9 421.2,304.7 425.3,305.9 429.4,304.1 433.5,302.9 436.5,301.2 437.6,297.3 438.8,297.3 439.4,301.2 440.6,304.1 441.2,307.6 442.9,310.6 444.1,313.5 442.4,315.3 439.4,317.6 436.5,318.8 433.5,318 430.6,317.1 428.2,316.5 426.5,314.1 424.1,311.8 421.8,308.8 420,305.9Z"/>
<path class="f" d="M397.1,312.4 399.4,310 403.5,308.8 407.6,305.3 411.8,302.9 414.7,300 417.6,302.9 419.4,302.9 420,305.9 421.8,308.8 424.1,311.8 426.5,314.1 423.5,315.3 420,314.7 416.5,315.3 412.9,316.5 409.4,315.9 406.5,317.1 403.5,318.2 401.8,319.4 398.8,318.8 397.6,315.3Z" fill="#FDAE61" stroke="#FDAE61"/><path class="o" d="M397.1,312.4 399.4,310 403.5,308.8 407.6,305.3 411.8,302.9 414.7,300 417.6,302.9 419.4,302.9 420,305.9 421.8,308.8 424.1,311.8 426.5,314.1 423.5,315.3 420,314.7 416.5,315.3 412.9,316.5 409.4,315.9 406.5,317.1 403.5,318.2 401.8,319.4 398.8,318.8 397.6,315.3Z"/>
<path class="f" d="M447.6,287 450,283 454,287 459,293 462,297 464,301 463,303.6 461,300 456,295 450,292 446,293Z" fill="#FDAE61" stroke="#FDAE61"/><path class="o" d="M447.6,287 450,283 454,287 459,293 462,297 464,301 463,303.6 461,300 456,295 450,292 446,293Z"/>
<path class="f" d="M464,301 470,301.6 480,298.6 479.8,301.8 477.6,306.8 473.4,313.4 468.4,319.4 462.6,325.2 459.2,329.4 458,331.8 458,329 459,320 459,317 466,313 471,308 464,303.6Z" fill="#FDAE61" stroke="#FDAE61"/><path class="o" d="M464,301 470,301.6 480,298.6 479.8,301.8 477.6,306.8 473.4,313.4 468.4,319.4 462.6,325.2 459.2,329.4 458,331.8 458,329 459,320 459,317 466,313 471,308 464,303.6Z"/>
<path class="f" d="M385,323 388.4,323 388.4,325.6 385,326Z" fill="#E56E5A" stroke="#E56E5A"/><path class="o" d="M385,323 388.4,323 388.4,325.6 385,326Z"/>
<path class="f" d="M385,326 388.4,325.6 389,322.4 394,322.4 395,327 398,328 397,334 393,337 390,338 387,333 384.4,329Z" fill="#FDAE61" stroke="#FDAE61"/><path class="o" d="M385,326 388.4,325.6 389,322.4 394,322.4 395,327 398,328 397,334 393,337 390,338 387,333 384.4,329Z"/>
<path class="f" d="M394,322.4 399,322.4 403,319 405.6,320 404,327 402,332 399,338 395,343 391.6,341 390,338 393,337 397,334 398,328 395,327Z" fill="#FDAE61" stroke="#FDAE61"/><path class="o" d="M394,322.4 399,322.4 403,319 405.6,320 404,327 402,332 399,338 395,343 391.6,341 390,338 393,337 397,334 398,328 395,327Z"/>
<path class="f" d="M392,344 395,343 401,344 406,345 408,348 413,349 414,354 418,355 418,359 414,359 413,366 414,375 411,375.6 402,374.4 394,373.6 390,373 389.6,368 391,362 393,354 393.6,349Z" fill="#FDAE61" stroke="#FDAE61"/><path class="o" d="M392,344 395,343 401,344 406,345 408,348 413,349 414,354 418,355 418,359 414,359 413,366 414,375 411,375.6 402,374.4 394,373.6 390,373 389.6,368 391,362 393,354 393.6,349Z"/>
<path class="f" d="M390,373 394,373.6 402,374.4 411,375.6 418,374.4 417.6,375.6 411,376.4 410,383 408,388 407.6,395 407,402 404,404.4 400,403 398,396 395,388 392,381 390.4,377Z" fill="#FFFFB5" stroke="#FFFFB5"/><path class="o" d="M390,373 394,373.6 402,374.4 411,375.6 418,374.4 417.6,375.6 411,376.4 410,383 408,388 407.6,395 407,402 404,404.4 400,403 398,396 395,388 392,381 390.4,377Z"/>
<path class="f" d="M411,376.4 417.6,375.6 421,377 424,382 428,385 430,387 426,390 422,394 417,395 413,398 409,398 407.6,395 408,388 410,383Z" fill="#FDAE61" stroke="#FDAE61"/><path class="o" d="M411,376.4 417.6,375.6 421,377 424,382 428,385 430,387 426,390 422,394 417,395 413,398 409,398 407.6,395 408,388 410,383Z"/>
<path class="f" d="M421,377 425,373 430,370 435,371 438,376 437,382 434,386.4 430,387 428,385 424,382Z" fill="#FFFFB5" stroke="#FFFFB5"/><path class="o" d="M421,377 425,373 430,370 435,371 438,376 437,382 434,386.4 430,387 428,385 424,382Z"/>
<path class="f" d="M442,360 447,359 456,356 456.4,366 454,372 449,375 445,379 442,383 443,389 440,393 437,396 435,398 434,394 434.4,389 434,386.4 437,382 438,376 435,371 439,366 441,368 443,372 444.4,370 443,365 441.6,362Z" fill="#FDAE61" stroke="#FDAE61"/><path class="o" d="M442,360 447,359 456,356 456.4,366 454,372 449,375 445,379 442,383 443,389 440,393 437,396 435,398 434,394 434.4,389 434,386.4 437,382 438,376 435,371 439,366 441,368 443,372 444.4,370 443,365 441.6,362Z"/>
<path class="f" d="M423,405.6 426,403.6 428,405.6 425.6,408.4 423.6,408Z" fill="#E56E5A" stroke="#E56E5A"/><path class="o" d="M423,405.6 426,403.6 428,405.6 425.6,408.4 423.6,408Z"/>
<path class="f" d="M461,385 462,379 464,373 470,369 474,363 476,360 478,362 478.4,368 476,375 473,383 470,391 467,395 463,395 461.2,391Z" fill="#FFFFB5" stroke="#FFFFB5"/><path class="o" d="M461,385 462,379 464,373 470,369 474,363 476,360 478,362 478.4,368 476,375 473,383 470,391 467,395 463,395 461.2,391Z"/>
<path class="f" d="M614.6,417.8 616.3,410.3 617.6,402.7 617.1,396.5 619.6,387.7 626.3,383.9 633.9,381.4 640.1,376.4 643.9,370.2 650.2,366.4 655.7,368.1 658.9,362.6 663.9,358.9 670.2,358.1 676.5,361.4 674,366.4 679,370.2 684,372.7 686.5,366.4 688.2,358.9 690.3,356.4 692.8,363.9 695.3,371.4 698.3,377.7 701.5,383.9 704,390.2 705.8,397.7 704,406.5 700.3,414 695.3,420.3 690.3,425.3 684,427.8 677.7,429.8 671.5,429.8 666.4,427.8 664.7,422.8 661.4,417.8 658.9,420.3 657.2,415.3 651.4,411.5 643.9,412.3 636.4,414.8 628.8,417.3 621.3,420.3 616.3,420.3Z" fill="#4A6AA5" stroke="#4A6AA5"/><path class="o" d="M614.6,417.8 616.3,410.3 617.6,402.7 617.1,396.5 619.6,387.7 626.3,383.9 633.9,381.4 640.1,376.4 643.9,370.2 650.2,366.4 655.7,368.1 658.9,362.6 663.9,358.9 670.2,358.1 676.5,361.4 674,366.4 679,370.2 684,372.7 686.5,366.4 688.2,358.9 690.3,356.4 692.8,363.9 695.3,371.4 698.3,377.7 701.5,383.9 704,390.2 705.8,397.7 704,406.5 700.3,414 695.3,420.3 690.3,425.3 684,427.8 677.7,429.8 671.5,429.8 666.4,427.8 664.7,422.8 661.4,417.8 658.9,420.3 657.2,415.3 651.4,411.5 643.9,412.3 636.4,414.8 628.8,417.3 621.3,420.3 616.3,420.3Z"/>
<path class="f" d="M667.7,436.6 672.7,435.3 676.5,435.8 674,440.3 669.7,442.3 667.2,440.3Z" fill="#4A6AA5" stroke="#4A6AA5"/><path class="o" d="M667.7,436.6 672.7,435.3 676.5,435.8 674,440.3 669.7,442.3 667.2,440.3Z"/>
<path class="f" d="M738.4,419 740.4,418.3 741.6,422.8 746.6,426.5 742.9,430.3 737.9,434.1 733.4,437.3 732.4,434.8 736.6,430.3 739.9,425.8Z" fill="#FFFFB5" stroke="#FFFFB5"/><path class="o" d="M738.4,419 740.4,418.3 741.6,422.8 746.6,426.5 742.9,430.3 737.9,434.1 733.4,437.3 732.4,434.8 736.6,430.3 739.9,425.8Z"/>
<path class="f" d="M705.8,447.3 712.8,442.8 720.3,439.1 727.8,434.8 730.9,435.8 729.1,439.8 722.8,442.8 715.3,446.6 709,449.8 705.8,449.3Z" fill="#FFFFB5" stroke="#FFFFB5"/><path class="o" d="M705.8,447.3 712.8,442.8 720.3,439.1 727.8,434.8 730.9,435.8 729.1,439.8 722.8,442.8 715.3,446.6 709,449.8 705.8,449.3Z"/>
<path class="f" d="M687.7,335.1 694,337.1 700.3,341.3 704,347.6 706.5,352.6 708.3,356.4 704,355.1 700.3,352.6 695.3,352.1 690.3,353.1 687.2,351.4Z" fill="#FFFFB5" stroke="#FFFFB5"/><path class="o" d="M687.7,335.1 694,337.1 700.3,341.3 704,347.6 706.5,352.6 708.3,356.4 704,355.1 700.3,352.6 695.3,352.1 690.3,353.1 687.2,351.4Z"/>
<path class="f" d="M704.8,343.1 710.3,341.3 713.3,336.3 714.8,338.1 712.8,342.6 707.8,345.1Z" fill="#FFFFB5" stroke="#FFFFB5"/><path class="o" d="M704.8,343.1 710.3,341.3 713.3,336.3 714.8,338.1 712.8,342.6 707.8,345.1Z"/>
<path class="f" d="M718.6,342.3 720.3,343.3 722.1,346.3 720.3,346.8Z" fill="#FFFFB5" stroke="#FFFFB5"/><path class="o" d="M718.6,342.3 720.3,343.3 722.1,346.3 720.3,346.8Z"/>
<path class="f" d="M727.3,348.1 730.4,349.6 729.3,351.4Z" fill="#FDAE61" stroke="#FDAE61"/><path class="o" d="M727.3,348.1 730.4,349.6 729.3,351.4Z"/>
<path class="f" d="M732.4,353.1 735.4,355.1 734.1,357.1Z" fill="#FDAE61" stroke="#FDAE61"/><path class="o" d="M732.4,353.1 735.4,355.1 734.1,357.1Z"/>
<path class="f" d="M742.9,367.1 744.9,368.1 744.4,371.4 742.9,370.2Z" fill="#FDAE61" stroke="#FDAE61"/><path class="o" d="M742.9,367.1 744.9,368.1 744.4,371.4 742.9,370.2Z"/>
<path d="M734.1,381.4 739.9,385.2 739.1,387.2 734.9,383.9Z" fill="url(#hatch)"/><path class="n" d="M734.1,381.4 739.9,385.2 739.1,387.2 734.9,383.9Z"/>
<path class="f" d="M765.9,374.7 769.2,373.2 769.9,375.7 766.7,377.2Z" fill="#FFFFB5" stroke="#FFFFB5"/><path class="o" d="M765.9,374.7 769.2,373.2 769.9,375.7 766.7,377.2Z"/>
<path class="f" d="M770.5,371.4 773.5,370.2 773.7,371.7Z" fill="#FFFFB5" stroke="#FFFFB5"/><path class="o" d="M770.5,371.4 773.5,370.2 773.7,371.7Z"/>
<path class="f" d="M664.3,331.2 667.8,330.2 671.4,330.2 672.8,333 676.3,335.2 679.9,333.5 683.4,333 687.6,335.2 687.6,352.2 684.1,351.4 681.3,349.3 679.2,346.5 677,343.7 674.2,340.8 672.1,338.7 669.2,335.9 666.4,333.7Z" fill="#38AABA" stroke="#38AABA"/><path class="o" d="M664.3,331.2 667.8,330.2 671.4,330.2 672.8,333 676.3,335.2 679.9,333.5 683.4,333 687.6,335.2 687.6,352.2 684.1,351.4 681.3,349.3 679.2,346.5 677,343.7 674.2,340.8 672.1,338.7 669.2,335.9 666.4,333.7Z"/>
<path class="o" d="M127.8,151.3 104,173.9 109,176.4"/>
<path class="o" d="M114,201.5 171.7,201 183,204 190.5,210.2 191.7,216.5 189.2,219.7 198,215.2 208,212.2"/>
<path class="o" d="M190.4,218.6 200.1,214.4 208.5,211.9 216.8,207.7 220.2,205.2 223.5,206 226,210.2 225.2,213.6"/>
<path class="o" d="M201.6,325 202.4,330 199,335 200,338 195,341 192.4,348 196,354 201,355 205,357"/>
<path class="o" d="M185,318 193,323 199,324 201.6,325 202.4,320 203,310"/>
<path class="o" d="M188,333 193,336 199,335"/>
<path class="o" d="M210,388 207.6,400 209,416 210,428 213,440 215,450 218,460 226,468"/>
<path class="o" d="M223,386 232,390 233,399 239,400 243,397 238,388 232,382"/>
<path class="o" d="M238,400 235,408 236,417 240,420"/>
<path class="o" d="M235,408 241,409 247,416"/>
<path class="o" d="M530,235 527,240 524,244 525,248 521,252 519,257 516,261 518,265 520,268"/>
<path class="o" d="M542,250 543,253 550,256 558,258 561,257 564,255.4"/>
<path class="o" d="M561.6,259 565,258.6 569,261 570,265 568.4,270 565,271.4 562.4,268 561,264 561.6,259"/>
<path class="o" d="M579,257 576,260 574,264 571.6,268 570,273"/>
<path class="o" d="M587,268 585,273 587,278 586,283 584.4,286"/>
<path class="o" d="M590,271.4 589,275 592,278 596,276.6 599,280 600,284"/>
<path class="o" d="M598,269 600,273 604,277 606,281 605,285"/>
<path class="o" d="M600,284 596,285 595,289 597,294"/>
<path class="o" d="M600,284 605,285 606,291 603,294 602,300"/>
<path class="o" d="M596,314 599,313"/>
<path class="o" d="M500,252 502,254 504.5,258 502,260 501,263"/>
<path class="o" d="M343,257 351,263 371,278 388,268 385,262 384,250"/>
<path class="o" d="M380.6,232.1 379.6,236.1 380,240.3 382.5,243.9 384.3,247.4"/>
<path class="o" d="M360.5,236.1 359.1,238.9 360.5,243.9 357.7,247.4 353.4,250.2 347.7,253.1 343.8,255.9 337.8,257.3 335,258"/>
<path class="o" d="M350,286 343,287 336,289 336,293 339,297 343,299 346,302 350,301.6 352,298 355,293 358,290 363,289 368,287 372,283 371,278"/>
<path class="o" d="M363,289 368,292 370,296.4 374,293 382,294 389,293 394,293 397,284 398,276 396,270"/>
<path class="o" d="M352,298 355,302.4 356,309 356.4,315.2"/>
<path class="o" d="M355,302.4 361,299 366,298"/>
<path class="o" d="M343,299 343,304 340,307 342,310"/>
<path class="o" d="M394,293 396,298 399,303 397,308"/>
<path class="o" d="M383,316 386,312 390,308 393,303 396,298"/>
<path class="o" d="M405.6,320 404,327 402,332 399,338 395,343"/>
<path class="o" d="M431,317 432,321 431,326 430,332 431,338 431.6,344 430,350 434,351 435,356 432,359 429,356 424,358 419,358 418,355 414,354 413,349 408,348 406,345 401,344 395,343"/>
<path class="o" d="M441,316 442,322 440,327 435,328 431,329"/>
<path class="o" d="M440,327 442,331 448,335 454,339"/>
<path class="o" d="M444,313 450,317 458,318"/>
<path class="o" d="M434,351 440,354 444,357 449,356.4 454.4,355"/>
<path class="o" d="M400,403 404,404.4 407,402 409,398"/>
</svg>
<div class="sw" style="left:79px;top:516px;background:#E56E5A"></div>
<div id="lg0" class="t lg" style="left:98.7px;top:516.9px;transform:scaleX(1.073);">No capacity for data collection</div>
<div class="sw" style="left:303.8px;top:516px;background:#FDAE61"></div>
<div id="lg1" class="t lg" style="left:323px;top:516.9px;transform:scaleX(1.069);">Collection of data from some localities</div>
<div class="sw" style="left:577.8px;top:516px;background:#FFFFB0"></div>
<div id="lg2" class="t lg" style="left:597px;top:516.9px;transform:scaleX(1.083);">National collection of data</div>
<div class="sw" style="left:36px;top:534.8px;background:#38AABA"></div>
<div id="lg3" class="t lg" style="left:55.3px;top:535.3px;transform:scaleX(1.06);">National AMR surveillance system</div>
<div class="sw" style="left:282px;top:534.8px;background:#4A6AA5"></div>
<div id="lg4" class="t lg" style="left:302px;top:535.3px;transform:scaleX(1.07);">National AMR surveillance system linked with antibiotic usage data</div>
<div class="sw" style="left:737.8px;top:534.8px;background:repeating-linear-gradient(135deg,#fff 0,#fff 2px,#dcdcdc 2px,#dcdcdc 3px);border-color:#c4c4c4"></div>
<div id="lg5" class="t lg" style="left:757.7px;top:535.3px;transform:scaleX(1.036);">No data</div>
<div id="ft1" class="t ft" style="left:16px;top:570.5px"><b style="color:#5b5b5b">Data source:</b> FAO, UNEP, WHO and WOAH (2024)</div>
<div id="ft2" class="t ft" style="left:603.5px;top:570.5px;transform:scaleX(1.034)">OurWorldinData.org/antibiotics | CC BY</div>
</body></html>
